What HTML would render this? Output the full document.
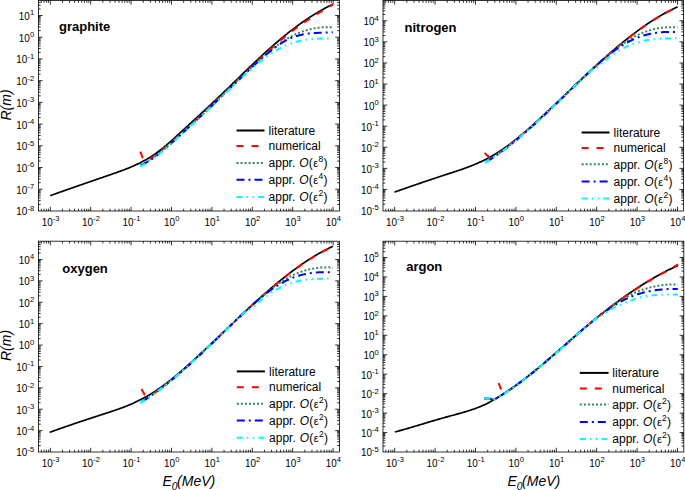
<!DOCTYPE html>
<html><head><meta charset="utf-8"><style>
html,body{margin:0;padding:0;background:#fff;}
body{width:685px;height:490px;overflow:hidden;}
svg{display:block;font-family:"Liberation Sans", sans-serif;}
</style></head><body>
<svg width="685" height="490" viewBox="0 0 685 490">
<rect width="685" height="490" fill="#fff"/>
<rect x="38.4" y="0.5" width="301" height="210.5" fill="none" stroke="#000" stroke-width="0.8"/>
<path d="M41.34,211v-2.3 M41.34,0.5v2.3 M44.04,211v-2.3 M44.04,0.5v2.3 M46.38,211v-2.3 M46.38,0.5v2.3 M48.45,211v-2.3 M48.45,0.5v2.3 M50.3,211v-4.2 M50.3,0.5v4.2 M62.46,211v-2.3 M62.46,0.5v2.3 M69.58,211v-2.3 M69.58,0.5v2.3 M74.62,211v-2.3 M74.62,0.5v2.3 M78.54,211v-2.3 M78.54,0.5v2.3 M81.74,211v-2.3 M81.74,0.5v2.3 M84.44,211v-2.3 M84.44,0.5v2.3 M86.78,211v-2.3 M86.78,0.5v2.3 M88.85,211v-2.3 M88.85,0.5v2.3 M90.7,211v-4.2 M90.7,0.5v4.2 M102.86,211v-2.3 M102.86,0.5v2.3 M109.98,211v-2.3 M109.98,0.5v2.3 M115.02,211v-2.3 M115.02,0.5v2.3 M118.94,211v-2.3 M118.94,0.5v2.3 M122.14,211v-2.3 M122.14,0.5v2.3 M124.84,211v-2.3 M124.84,0.5v2.3 M127.18,211v-2.3 M127.18,0.5v2.3 M129.25,211v-2.3 M129.25,0.5v2.3 M131.1,211v-4.2 M131.1,0.5v4.2 M143.26,211v-2.3 M143.26,0.5v2.3 M150.38,211v-2.3 M150.38,0.5v2.3 M155.42,211v-2.3 M155.42,0.5v2.3 M159.34,211v-2.3 M159.34,0.5v2.3 M162.54,211v-2.3 M162.54,0.5v2.3 M165.24,211v-2.3 M165.24,0.5v2.3 M167.58,211v-2.3 M167.58,0.5v2.3 M169.65,211v-2.3 M169.65,0.5v2.3 M171.5,211v-4.2 M171.5,0.5v4.2 M183.66,211v-2.3 M183.66,0.5v2.3 M190.78,211v-2.3 M190.78,0.5v2.3 M195.82,211v-2.3 M195.82,0.5v2.3 M199.74,211v-2.3 M199.74,0.5v2.3 M202.94,211v-2.3 M202.94,0.5v2.3 M205.64,211v-2.3 M205.64,0.5v2.3 M207.98,211v-2.3 M207.98,0.5v2.3 M210.05,211v-2.3 M210.05,0.5v2.3 M211.9,211v-4.2 M211.9,0.5v4.2 M224.06,211v-2.3 M224.06,0.5v2.3 M231.18,211v-2.3 M231.18,0.5v2.3 M236.22,211v-2.3 M236.22,0.5v2.3 M240.14,211v-2.3 M240.14,0.5v2.3 M243.34,211v-2.3 M243.34,0.5v2.3 M246.04,211v-2.3 M246.04,0.5v2.3 M248.38,211v-2.3 M248.38,0.5v2.3 M250.45,211v-2.3 M250.45,0.5v2.3 M252.3,211v-4.2 M252.3,0.5v4.2 M264.46,211v-2.3 M264.46,0.5v2.3 M271.58,211v-2.3 M271.58,0.5v2.3 M276.62,211v-2.3 M276.62,0.5v2.3 M280.54,211v-2.3 M280.54,0.5v2.3 M283.74,211v-2.3 M283.74,0.5v2.3 M286.44,211v-2.3 M286.44,0.5v2.3 M288.78,211v-2.3 M288.78,0.5v2.3 M290.85,211v-2.3 M290.85,0.5v2.3 M292.7,211v-4.2 M292.7,0.5v4.2 M304.86,211v-2.3 M304.86,0.5v2.3 M311.98,211v-2.3 M311.98,0.5v2.3 M317.02,211v-2.3 M317.02,0.5v2.3 M320.94,211v-2.3 M320.94,0.5v2.3 M324.14,211v-2.3 M324.14,0.5v2.3 M326.84,211v-2.3 M326.84,0.5v2.3 M329.18,211v-2.3 M329.18,0.5v2.3 M331.25,211v-2.3 M331.25,0.5v2.3 M333.1,211v-4.2 M333.1,0.5v4.2 M38.4,204.44h2.3 M339.4,204.44h-2.3 M38.4,200.62h2.3 M339.4,200.62h-2.3 M38.4,197.9h2.3 M339.4,197.9h-2.3 M38.4,195.8h2.3 M339.4,195.8h-2.3 M38.4,194.08h2.3 M339.4,194.08h-2.3 M38.4,192.62h2.3 M339.4,192.62h-2.3 M38.4,191.36h2.3 M339.4,191.36h-2.3 M38.4,190.25h2.3 M339.4,190.25h-2.3 M38.4,189.26h4.2 M339.4,189.26h-4.2 M38.4,182.72h2.3 M339.4,182.72h-2.3 M38.4,178.9h2.3 M339.4,178.9h-2.3 M38.4,176.18h2.3 M339.4,176.18h-2.3 M38.4,174.08h2.3 M339.4,174.08h-2.3 M38.4,172.36h2.3 M339.4,172.36h-2.3 M38.4,170.9h2.3 M339.4,170.9h-2.3 M38.4,169.64h2.3 M339.4,169.64h-2.3 M38.4,168.53h2.3 M339.4,168.53h-2.3 M38.4,167.54h4.2 M339.4,167.54h-4.2 M38.4,161h2.3 M339.4,161h-2.3 M38.4,157.18h2.3 M339.4,157.18h-2.3 M38.4,154.46h2.3 M339.4,154.46h-2.3 M38.4,152.36h2.3 M339.4,152.36h-2.3 M38.4,150.64h2.3 M339.4,150.64h-2.3 M38.4,149.18h2.3 M339.4,149.18h-2.3 M38.4,147.92h2.3 M339.4,147.92h-2.3 M38.4,146.81h2.3 M339.4,146.81h-2.3 M38.4,145.82h4.2 M339.4,145.82h-4.2 M38.4,139.28h2.3 M339.4,139.28h-2.3 M38.4,135.46h2.3 M339.4,135.46h-2.3 M38.4,132.74h2.3 M339.4,132.74h-2.3 M38.4,130.64h2.3 M339.4,130.64h-2.3 M38.4,128.92h2.3 M339.4,128.92h-2.3 M38.4,127.46h2.3 M339.4,127.46h-2.3 M38.4,126.2h2.3 M339.4,126.2h-2.3 M38.4,125.09h2.3 M339.4,125.09h-2.3 M38.4,124.1h4.2 M339.4,124.1h-4.2 M38.4,117.56h2.3 M339.4,117.56h-2.3 M38.4,113.74h2.3 M339.4,113.74h-2.3 M38.4,111.02h2.3 M339.4,111.02h-2.3 M38.4,108.92h2.3 M339.4,108.92h-2.3 M38.4,107.2h2.3 M339.4,107.2h-2.3 M38.4,105.74h2.3 M339.4,105.74h-2.3 M38.4,104.48h2.3 M339.4,104.48h-2.3 M38.4,103.37h2.3 M339.4,103.37h-2.3 M38.4,102.38h4.2 M339.4,102.38h-4.2 M38.4,95.84h2.3 M339.4,95.84h-2.3 M38.4,92.02h2.3 M339.4,92.02h-2.3 M38.4,89.3h2.3 M339.4,89.3h-2.3 M38.4,87.2h2.3 M339.4,87.2h-2.3 M38.4,85.48h2.3 M339.4,85.48h-2.3 M38.4,84.02h2.3 M339.4,84.02h-2.3 M38.4,82.76h2.3 M339.4,82.76h-2.3 M38.4,81.65h2.3 M339.4,81.65h-2.3 M38.4,80.66h4.2 M339.4,80.66h-4.2 M38.4,74.12h2.3 M339.4,74.12h-2.3 M38.4,70.3h2.3 M339.4,70.3h-2.3 M38.4,67.58h2.3 M339.4,67.58h-2.3 M38.4,65.48h2.3 M339.4,65.48h-2.3 M38.4,63.76h2.3 M339.4,63.76h-2.3 M38.4,62.3h2.3 M339.4,62.3h-2.3 M38.4,61.04h2.3 M339.4,61.04h-2.3 M38.4,59.93h2.3 M339.4,59.93h-2.3 M38.4,58.94h4.2 M339.4,58.94h-4.2 M38.4,52.4h2.3 M339.4,52.4h-2.3 M38.4,48.58h2.3 M339.4,48.58h-2.3 M38.4,45.86h2.3 M339.4,45.86h-2.3 M38.4,43.76h2.3 M339.4,43.76h-2.3 M38.4,42.04h2.3 M339.4,42.04h-2.3 M38.4,40.58h2.3 M339.4,40.58h-2.3 M38.4,39.32h2.3 M339.4,39.32h-2.3 M38.4,38.21h2.3 M339.4,38.21h-2.3 M38.4,37.22h4.2 M339.4,37.22h-4.2 M38.4,30.68h2.3 M339.4,30.68h-2.3 M38.4,26.86h2.3 M339.4,26.86h-2.3 M38.4,24.14h2.3 M339.4,24.14h-2.3 M38.4,22.04h2.3 M339.4,22.04h-2.3 M38.4,20.32h2.3 M339.4,20.32h-2.3 M38.4,18.86h2.3 M339.4,18.86h-2.3 M38.4,17.6h2.3 M339.4,17.6h-2.3 M38.4,16.49h2.3 M339.4,16.49h-2.3 M38.4,15.5h4.2 M339.4,15.5h-4.2 M38.4,8.96h2.3 M339.4,8.96h-2.3 M38.4,5.14h2.3 M339.4,5.14h-2.3 M38.4,2.42h2.3 M339.4,2.42h-2.3" stroke="#000" stroke-width="0.8" fill="none"/>
<text transform="translate(41.64,225.9) scale(0.9,1)" font-size="11.0">10</text><text transform="translate(52.8,221.4) scale(1.0,1)" font-size="7.6">-3</text>
<text transform="translate(82.04,225.9) scale(0.9,1)" font-size="11.0">10</text><text transform="translate(93.2,221.4) scale(1.0,1)" font-size="7.6">-2</text>
<text transform="translate(122.44,225.9) scale(0.9,1)" font-size="11.0">10</text><text transform="translate(133.6,221.4) scale(1.0,1)" font-size="7.6">-1</text>
<text transform="translate(164.11,225.9) scale(0.9,1)" font-size="11.0">10</text><text transform="translate(175.27,221.4) scale(1.0,1)" font-size="7.6">0</text>
<text transform="translate(204.51,225.9) scale(0.9,1)" font-size="11.0">10</text><text transform="translate(215.67,221.4) scale(1.0,1)" font-size="7.6">1</text>
<text transform="translate(244.91,225.9) scale(0.9,1)" font-size="11.0">10</text><text transform="translate(256.07,221.4) scale(1.0,1)" font-size="7.6">2</text>
<text transform="translate(285.31,225.9) scale(0.9,1)" font-size="11.0">10</text><text transform="translate(296.47,221.4) scale(1.0,1)" font-size="7.6">3</text>
<text transform="translate(325.71,225.9) scale(0.9,1)" font-size="11.0">10</text><text transform="translate(336.87,221.4) scale(1.0,1)" font-size="7.6">4</text>
<text transform="translate(16.28,215.38) scale(0.9,1)" font-size="11.0">10</text><text transform="translate(27.44,210.88) scale(1.0,1)" font-size="7.6">-8</text>
<text transform="translate(16.28,193.66) scale(0.9,1)" font-size="11.0">10</text><text transform="translate(27.44,189.16) scale(1.0,1)" font-size="7.6">-7</text>
<text transform="translate(16.28,171.94) scale(0.9,1)" font-size="11.0">10</text><text transform="translate(27.44,167.44) scale(1.0,1)" font-size="7.6">-6</text>
<text transform="translate(16.28,150.22) scale(0.9,1)" font-size="11.0">10</text><text transform="translate(27.44,145.72) scale(1.0,1)" font-size="7.6">-5</text>
<text transform="translate(16.28,128.5) scale(0.9,1)" font-size="11.0">10</text><text transform="translate(27.44,124) scale(1.0,1)" font-size="7.6">-4</text>
<text transform="translate(16.28,106.78) scale(0.9,1)" font-size="11.0">10</text><text transform="translate(27.44,102.28) scale(1.0,1)" font-size="7.6">-3</text>
<text transform="translate(16.28,85.06) scale(0.9,1)" font-size="11.0">10</text><text transform="translate(27.44,80.56) scale(1.0,1)" font-size="7.6">-2</text>
<text transform="translate(16.28,63.34) scale(0.9,1)" font-size="11.0">10</text><text transform="translate(27.44,58.84) scale(1.0,1)" font-size="7.6">-1</text>
<text transform="translate(18.82,41.62) scale(0.9,1)" font-size="11.0">10</text><text transform="translate(29.97,37.12) scale(1.0,1)" font-size="7.6">0</text>
<text transform="translate(18.82,19.9) scale(0.9,1)" font-size="11.0">10</text><text transform="translate(29.97,15.4) scale(1.0,1)" font-size="7.6">1</text>
<text x="59" y="31.4" font-size="13" font-weight="bold">graphite</text>
<path d="M50.3,195.66 L51.3,195.3 L52.3,194.94 L53.31,194.57 L54.31,194.21 L55.31,193.85 L56.31,193.5 L57.31,193.14 L58.31,192.78 L59.32,192.42 L60.32,192.07 L61.32,191.71 L62.32,191.36 L63.32,191 L64.32,190.65 L65.33,190.29 L66.33,189.94 L67.33,189.59 L68.33,189.23 L69.33,188.88 L70.34,188.53 L71.34,188.18 L72.34,187.83 L73.34,187.48 L74.34,187.13 L75.34,186.78 L76.35,186.43 L77.35,186.08 L78.35,185.74 L79.35,185.39 L80.35,185.04 L81.35,184.69 L82.36,184.35 L83.36,184 L84.36,183.65 L85.36,183.31 L86.36,182.96 L87.37,182.62 L88.37,182.27 L89.37,181.93 L90.37,181.58 L91.37,181.24 L92.37,180.89 L93.38,180.55 L94.38,180.2 L95.38,179.86 L96.38,179.51 L97.38,179.17 L98.39,178.82 L99.39,178.48 L100.39,178.14 L101.39,177.79 L102.39,177.45 L103.39,177.11 L104.4,176.76 L105.4,176.42 L106.4,176.07 L107.4,175.73 L108.4,175.39 L109.4,175.04 L110.41,174.7 L111.41,174.35 L112.41,174.01 L113.41,173.66 L114.41,173.31 L115.42,172.96 L116.42,172.61 L117.42,172.25 L118.42,171.9 L119.42,171.53 L120.42,171.17 L121.43,170.8 L122.43,170.43 L123.43,170.05 L124.43,169.67 L125.43,169.28 L126.43,168.89 L127.44,168.49 L128.44,168.09 L129.44,167.68 L130.44,167.26 L131.44,166.84 L132.45,166.41 L133.45,165.97 L134.45,165.52 L135.45,165.06 L136.45,164.6 L137.45,164.13 L138.46,163.64 L139.46,163.15 L140.46,162.65 L141.46,162.14 L142.46,161.61 L143.46,161.08 L144.47,160.53 L145.47,159.97 L146.47,159.41 L147.47,158.82 L148.47,158.23 L149.48,157.62 L150.48,157 L151.48,156.37 L152.48,155.72 L153.48,155.06 L154.48,154.38 L155.49,153.69 L156.49,152.98 L157.49,152.26 L158.49,151.52 L159.49,150.76 L160.5,149.99 L161.5,149.21 L162.5,148.41 L163.5,147.59 L164.5,146.77 L165.5,145.93 L166.51,145.08 L167.51,144.22 L168.51,143.35 L169.51,142.47 L170.51,141.59 L171.51,140.69 L172.52,139.79 L173.52,138.89 L174.52,137.98 L175.52,137.07 L176.52,136.15 L177.53,135.23 L178.53,134.31 L179.53,133.39 L180.53,132.47 L181.53,131.55 L182.53,130.64 L183.54,129.72 L184.54,128.8 L185.54,127.88 L186.54,126.96 L187.54,126.05 L188.54,125.13 L189.55,124.21 L190.55,123.29 L191.55,122.37 L192.55,121.46 L193.55,120.54 L194.56,119.62 L195.56,118.7 L196.56,117.78 L197.56,116.86 L198.56,115.93 L199.56,115.01 L200.57,114.08 L201.57,113.16 L202.57,112.23 L203.57,111.3 L204.57,110.37 L205.57,109.44 L206.58,108.51 L207.58,107.58 L208.58,106.64 L209.58,105.7 L210.58,104.76 L211.59,103.82 L212.59,102.88 L213.59,101.93 L214.59,100.99 L215.59,100.03 L216.59,99.08 L217.6,98.13 L218.6,97.17 L219.6,96.21 L220.6,95.25 L221.6,94.29 L222.6,93.33 L223.61,92.36 L224.61,91.39 L225.61,90.43 L226.61,89.46 L227.61,88.49 L228.62,87.52 L229.62,86.55 L230.62,85.57 L231.62,84.6 L232.62,83.63 L233.62,82.66 L234.63,81.68 L235.63,80.71 L236.63,79.74 L237.63,78.77 L238.63,77.79 L239.64,76.82 L240.64,75.85 L241.64,74.88 L242.64,73.91 L243.64,72.95 L244.64,71.98 L245.65,71.01 L246.65,70.05 L247.65,69.09 L248.65,68.13 L249.65,67.17 L250.65,66.21 L251.66,65.26 L252.66,64.3 L253.66,63.35 L254.66,62.4 L255.66,61.46 L256.67,60.51 L257.67,59.57 L258.67,58.64 L259.67,57.7 L260.67,56.77 L261.67,55.84 L262.68,54.92 L263.68,53.99 L264.68,53.08 L265.68,52.16 L266.68,51.25 L267.68,50.35 L268.69,49.44 L269.69,48.55 L270.69,47.65 L271.69,46.76 L272.69,45.88 L273.7,45 L274.7,44.12 L275.7,43.25 L276.7,42.39 L277.7,41.53 L278.7,40.67 L279.71,39.83 L280.71,38.98 L281.71,38.14 L282.71,37.31 L283.71,36.49 L284.71,35.67 L285.72,34.85 L286.72,34.05 L287.72,33.25 L288.72,32.45 L289.72,31.66 L290.73,30.88 L291.73,30.1 L292.73,29.33 L293.73,28.57 L294.73,27.82 L295.73,27.07 L296.74,26.32 L297.74,25.59 L298.74,24.86 L299.74,24.13 L300.74,23.42 L301.75,22.71 L302.75,22 L303.75,21.31 L304.75,20.62 L305.75,19.94 L306.75,19.26 L307.76,18.59 L308.76,17.93 L309.76,17.28 L310.76,16.63 L311.76,15.99 L312.76,15.36 L313.77,14.74 L314.77,14.12 L315.77,13.51 L316.77,12.91 L317.77,12.31 L318.78,11.72 L319.78,11.14 L320.78,10.57 L321.78,10 L322.78,9.44 L323.78,8.89 L324.79,8.35 L325.79,7.82 L326.79,7.29 L327.79,6.77 L328.79,6.26 L329.79,5.76 L330.8,5.26 L331.8,4.77 L332.8,4.29" fill="none" stroke="#000" stroke-width="1.7"/>
<path d="M140.4,151.7 L142.4,157.4 L144.5,160.3 L147,160.7 L148,160.05 L149,159.39 L150,158.71 L151,158.03 L152,157.33 L153,156.63 L154,155.91 L155,155.19 L156,154.45 L157,153.71 L158,152.95 L159,152.19 L160,151.42 L161,150.64 L162,149.85 L163,149.05 L164,148.25 L165,147.44 L166,146.62 L167,145.79 L168,144.95 L169,144.11 L170,143.26 L171,142.41 L172,141.55 L173,140.68 L174,139.81 L175,138.94 L176,138.05 L177,137.17 L178,136.27 L179,135.38 L180,134.48 L181,133.57 L182,132.66 L183,131.75 L184,130.84 L185,129.92 L186,129 L187,128.07 L188,127.14 L189,126.22 L190,125.28 L191,124.35 L192,123.42 L193,122.48 L194,121.54 L195,120.61 L196,119.67 L197,118.73 L198,117.79 L199,116.85 L200,115.91 L201,114.97 L202,114.03 L203,113.08 L204,112.14 L205,111.2 L206,110.25 L207,109.31 L208,108.36 L209,107.42 L210,106.47 L211,105.52 L212,104.58 L213,103.63 L214,102.68 L215,101.73" fill="none" stroke="#ff0000" stroke-width="2" stroke-dasharray="7 8"/>
<path d="M215,101.73 L216,100.78 L217,99.83 L218,98.88 L219,97.93 L220,96.98 L221,96.02 L222,95.07 L223,94.12 L224,93.16 L225,92.21 L226,91.25 L227,90.3 L228,89.34 L229,88.39 L230,87.43 L231,86.47 L232,85.51 L233,84.56 L234,83.6 L235,82.64 L236,81.68 L237,80.72 L238,79.76 L239,78.8 L240,77.84 L241,76.88 L242,75.91 L243,74.95 L244,73.99 L245,73.03 L246,72.07 L247,71.11 L248,70.15 L249,69.19 L250,68.23 L251,67.27 L252,66.32 L253,65.36 L254,64.41 L255,63.46 L256,62.51 L257,61.57 L258,60.62 L259,59.68 L260,58.75 L261,57.81 L262,56.88 L263,55.95 L264,55.02 L265,54.1 L266,53.18 L267,52.27 L268,51.36 L269,50.45 L270,49.55 L271,48.66 L272,47.76 L273,46.88 L274,45.99 L275,45.12 L276,44.25 L277,43.38 L278,42.52 L279,41.66 L280,40.82 L281,39.97 L282,39.14 L283,38.31 L284,37.49 L285,36.67 L286,35.86 L287,35.06 L288,34.27 L289,33.48 L290,32.7 L291,31.93 L292,31.17 L293,30.41 L294,29.66 L295,28.92 L296,28.18 L297,27.45 L298,26.73 L299,26.01 L300,25.3 L301,24.59 L302,23.9 L303,23.2 L304,22.52 L305,21.84 L306,21.16 L307,20.49 L308,19.83 L309,19.17 L310,18.52 L311,17.87 L312,17.23 L313,16.59 L314,15.96 L315,15.33 L316,14.71 L317,14.08 L318,13.47 L319,12.85 L320,12.24 L321,11.63 L322,11.03 L323,10.43 L324,9.82 L325,9.23 L326,8.63 L327,8.03 L328,7.43 L329,6.84 L330,6.24 L331,5.65 L332,5.05 L333,4.46" fill="none" stroke="#ff0000" stroke-width="2" stroke-dasharray="7 8" stroke-dashoffset="0.59"/>
<path d="M140.5,165.41 L141.5,164.91 L142.5,164.38 L143.5,163.84 L144.5,163.28 L145.5,162.7 L146.5,162.1 L147.5,161.49 L148.5,160.85 L149.5,160.2 L150.5,159.54 L151.5,158.86 L152.5,158.16 L153.5,157.46 L154.5,156.73 L155.5,156 L156.5,155.25 L157.5,154.48 L158.5,153.71 L159.5,152.92 L160.5,152.13 L161.5,151.32 L162.5,150.5 L163.5,149.68 L164.5,148.84 L165.5,148 L166.5,147.15 L167.5,146.29 L168.5,145.42 L169.5,144.55 L170.5,143.67 L171.5,142.79 L172.5,141.9 L173.5,141.01 L174.5,140.11 L175.5,139.21 L176.5,138.31 L177.5,137.41 L178.5,136.5 L179.5,135.59 L180.5,134.68 L181.5,133.77 L182.5,132.86 L183.5,131.95 L184.5,131.04 L185.5,130.12 L186.5,129.21 L187.5,128.29 L188.5,127.38 L189.5,126.46 L190.5,125.54 L191.5,124.62 L192.5,123.7 L193.5,122.78 L194.5,121.85 L195.5,120.93 L196.5,120 L197.5,119.07 L198.5,118.14 L199.5,117.21 L200.5,116.28 L201.5,115.35 L202.5,114.41 L203.5,113.47 L204.5,112.54 L205.5,111.6 L206.5,110.65 L207.5,109.71 L208.5,108.77 L209.5,107.82 L210.5,106.87 L211.5,105.92 L212.5,104.97 L213.5,104.02 L214.5,103.06 L215.5,102.1 L216.5,101.14 L217.5,100.18 L218.5,99.22 L219.5,98.26 L220.5,97.29 L221.5,96.32 L222.5,95.36 L223.5,94.39 L224.5,93.42 L225.5,92.45 L226.5,91.48 L227.5,90.5 L228.5,89.53 L229.5,88.56 L230.5,87.59 L231.5,86.62 L232.5,85.65 L233.5,84.68 L234.5,83.71 L235.5,82.74 L236.5,81.77 L237.5,80.8 L238.5,79.84 L239.5,78.87 L240.5,77.91 L241.5,76.95 L242.5,75.99 L243.5,75.03 L244.5,74.08 L245.5,73.12 L246.5,72.17 L247.5,71.22 L248.5,70.28 L249.5,69.33 L250.5,68.39 L251.5,67.46 L252.5,66.52 L253.5,65.59 L254.5,64.67 L255.5,63.74 L256.5,62.82 L257.5,61.91 L258.5,61 L259.5,60.09 L260.5,59.19 L261.5,58.3 L262.5,57.41 L263.5,56.53 L264.5,55.66 L265.5,54.79 L266.5,53.94 L267.5,53.09 L268.5,52.25 L269.5,51.42 L270.5,50.59 L271.5,49.78 L272.5,48.98 L273.5,48.19 L274.5,47.41 L275.5,46.65 L276.5,45.89 L277.5,45.15 L278.5,44.42 L279.5,43.7 L280.5,43 L281.5,42.32 L282.5,41.64 L283.5,40.98 L284.5,40.34 L285.5,39.71 L286.5,39.1 L287.5,38.51 L288.5,37.93 L289.5,37.37 L290.5,36.82 L291.5,36.3 L292.5,35.78 L293.5,35.28 L294.5,34.8 L295.5,34.34 L296.5,33.89 L297.5,33.45 L298.5,33.03 L299.5,32.63 L300.5,32.24 L301.5,31.87 L302.5,31.51 L303.5,31.16 L304.5,30.83 L305.5,30.52 L306.5,30.22 L307.5,29.94 L308.5,29.67 L309.5,29.41 L310.5,29.17 L311.5,28.95 L312.5,28.73 L313.5,28.53 L314.5,28.35 L315.5,28.18 L316.5,28.02 L317.5,27.88 L318.5,27.75 L319.5,27.64 L320.5,27.53 L321.5,27.45 L322.5,27.37 L323.5,27.31 L324.5,27.26 L325.5,27.22 L326.5,27.2 L327.5,27.19 L328.5,27.19 L329.5,27.21 L330.5,27.24 L331.5,27.28 L332.5,27.33" fill="none" stroke="#318a57" stroke-width="2" stroke-dasharray="2 2.05"/>
<path d="M141,165.28 L142,164.81 L143.01,164.31 L144.01,163.79 L145.02,163.24 L146.02,162.68 L147.03,162.09 L148.03,161.48 L149.03,160.86 L150.04,160.21 L151.04,159.54 L152.05,158.86 L153.05,158.15 L154.05,157.43 L155.06,156.7 L156.06,155.95 L157.07,155.18 L158.07,154.41 L159.08,153.61 L160.08,152.81 L161.08,151.99 L162.09,151.16 L163.09,150.33 L164.1,149.48 L165.1,148.62 L166.1,147.76 L167.11,146.88 L168.11,146 L169.12,145.11 L170.12,144.22 L171.13,143.33 L172.13,142.42 L173.13,141.52 L174.14,140.61 L175.14,139.7 L176.15,138.79 L177.15,137.88 L178.15,136.96 L179.16,136.05 L180.16,135.14 L181.17,134.22 L182.17,133.31 L183.18,132.39 L184.18,131.48 L185.18,130.56 L186.19,129.64 L187.19,128.72 L188.2,127.81 L189.2,126.89 L190.21,125.97 L191.21,125.05 L192.21,124.12 L193.22,123.2 L194.22,122.28 L195.23,121.35 L196.23,120.42 L197.23,119.49 L198.24,118.56 L199.24,117.63 L200.25,116.7 L201.25,115.77 L202.26,114.83 L203.26,113.89 L204.26,112.96 L205.27,112.01 L206.27,111.07 L207.28,110.13 L208.28,109.18 L209.28,108.23 L210.29,107.28 L211.29,106.33 L212.3,105.38 L213.3,104.42 L214.31,103.46" fill="none" stroke="#0000ff" stroke-width="2" stroke-dasharray="8 4 2 4"/>
<path d="M214.31,103.46 L215.31,102.5 L216.31,101.54 L217.32,100.57 L218.32,99.6 L219.33,98.64 L220.33,97.67 L221.34,96.7 L222.34,95.73 L223.34,94.75 L224.35,93.78 L225.35,92.81 L226.36,91.83 L227.36,90.86 L228.36,89.88 L229.37,88.91 L230.37,87.93 L231.38,86.96 L232.38,85.99 L233.39,85.01 L234.39,84.04 L235.39,83.07 L236.4,82.1 L237.4,81.13 L238.41,80.16 L239.41,79.19 L240.41,78.22 L241.42,77.26 L242.42,76.3 L243.43,75.34 L244.43,74.38 L245.44,73.42 L246.44,72.47 L247.44,71.52 L248.45,70.57 L249.45,69.63 L250.46,68.68 L251.46,67.75 L252.46,66.81 L253.47,65.88 L254.47,64.96 L255.48,64.04 L256.48,63.13 L257.49,62.22 L258.49,61.32 L259.49,60.43 L260.5,59.54 L261.5,58.67 L262.51,57.8 L263.51,56.93 L264.52,56.08 L265.52,55.23 L266.52,54.38 L267.53,53.55 L268.53,52.72 L269.54,51.9 L270.54,51.1 L271.54,50.3 L272.55,49.51 L273.55,48.74 L274.56,47.98 L275.56,47.23 L276.57,46.5 L277.57,45.78 L278.57,45.08 L279.58,44.4 L280.58,43.73 L281.59,43.08 L282.59,42.45 L283.59,41.85 L284.6,41.26 L285.6,40.69 L286.61,40.14 L287.61,39.62 L288.62,39.12 L289.62,38.64 L290.62,38.19 L291.63,37.77 L292.63,37.37 L293.64,36.99 L294.64,36.63 L295.65,36.3 L296.65,35.98 L297.65,35.69 L298.66,35.42 L299.66,35.16 L300.67,34.93 L301.67,34.71 L302.67,34.5 L303.68,34.31 L304.68,34.14 L305.69,33.98 L306.69,33.84 L307.7,33.7 L308.7,33.58 L309.7,33.47 L310.71,33.37 L311.71,33.28 L312.72,33.2 L313.72,33.13 L314.72,33.06 L315.73,33 L316.73,32.95 L317.74,32.9 L318.74,32.85 L319.75,32.81 L320.75,32.77 L321.75,32.73 L322.76,32.7 L323.76,32.66 L324.77,32.63 L325.77,32.59 L326.77,32.55 L327.78,32.51 L328.78,32.46 L329.79,32.41 L330.79,32.35 L331.8,32.29 L332.8,32.22" fill="none" stroke="#0000ff" stroke-width="2" stroke-dasharray="8 4 2 4" stroke-dashoffset="1.45"/>
<path d="M140,166.54 L141,166.03 L142.01,165.51 L143.01,164.96 L144.01,164.39 L145.01,163.81 L146.02,163.21 L147.02,162.59 L148.02,161.95 L149.02,161.3 L150.03,160.63 L151.03,159.94 L152.03,159.24 L153.03,158.53 L154.04,157.8 L155.04,157.06 L156.04,156.31 L157.04,155.54 L158.05,154.77 L159.05,153.98 L160.05,153.18 L161.05,152.37 L162.06,151.55 L163.06,150.72 L164.06,149.88 L165.07,149.03 L166.07,148.18 L167.07,147.32 L168.07,146.45 L169.08,145.58 L170.08,144.7 L171.08,143.82 L172.08,142.93 L173.09,142.04 L174.09,141.14 L175.09,140.25 L176.09,139.34 L177.1,138.44 L178.1,137.54 L179.1,136.63 L180.1,135.72 L181.11,134.81 L182.11,133.9 L183.11,132.98 L184.11,132.07 L185.12,131.15 L186.12,130.23 L187.12,129.31 L188.12,128.39 L189.13,127.46 L190.13,126.54 L191.13,125.61 L192.14,124.68 L193.14,123.75 L194.14,122.82 L195.14,121.88 L196.15,120.95 L197.15,120.01 L198.15,119.07 L199.15,118.13 L200.16,117.19 L201.16,116.25 L202.16,115.3 L203.16,114.36 L204.17,113.41 L205.17,112.46 L206.17,111.51 L207.17,110.56 L208.18,109.61 L209.18,108.66 L210.18,107.7 L211.18,106.75 L212.19,105.79 L213.19,104.83 L214.19,103.87" fill="none" stroke="#00ffff" stroke-width="2" stroke-dasharray="6 4 1.6 4.4 1.6 4"/>
<path d="M214.19,103.87 L215.2,102.91 L216.2,101.95 L217.2,100.99 L218.2,100.03 L219.21,99.07 L220.21,98.11 L221.21,97.14 L222.21,96.18 L223.22,95.21 L224.22,94.25 L225.22,93.28 L226.22,92.32 L227.23,91.36 L228.23,90.39 L229.23,89.43 L230.23,88.46 L231.24,87.5 L232.24,86.54 L233.24,85.58 L234.24,84.62 L235.25,83.66 L236.25,82.7 L237.25,81.75 L238.26,80.8 L239.26,79.86 L240.26,78.91 L241.26,77.97 L242.27,77.04 L243.27,76.11 L244.27,75.19 L245.27,74.27 L246.28,73.36 L247.28,72.45 L248.28,71.56 L249.28,70.66 L250.29,69.78 L251.29,68.9 L252.29,68.03 L253.29,67.17 L254.3,66.32 L255.3,65.48 L256.3,64.64 L257.3,63.82 L258.31,63 L259.31,62.2 L260.31,61.4 L261.32,60.62 L262.32,59.84 L263.32,59.08 L264.32,58.33 L265.33,57.59 L266.33,56.86 L267.33,56.14 L268.33,55.44 L269.34,54.75 L270.34,54.07 L271.34,53.4 L272.34,52.75 L273.35,52.11 L274.35,51.49 L275.35,50.88 L276.35,50.29 L277.36,49.71 L278.36,49.15 L279.36,48.6 L280.36,48.07 L281.37,47.55 L282.37,47.05 L283.37,46.57 L284.38,46.1 L285.38,45.65 L286.38,45.22 L287.38,44.81 L288.39,44.41 L289.39,44.03 L290.39,43.66 L291.39,43.31 L292.4,42.97 L293.4,42.65 L294.4,42.35 L295.4,42.05 L296.41,41.78 L297.41,41.51 L298.41,41.26 L299.41,41.02 L300.42,40.8 L301.42,40.59 L302.42,40.39 L303.42,40.2 L304.43,40.02 L305.43,39.86 L306.43,39.7 L307.43,39.56 L308.44,39.43 L309.44,39.31 L310.44,39.19 L311.45,39.09 L312.45,39 L313.45,38.91 L314.45,38.84 L315.46,38.77 L316.46,38.71 L317.46,38.66 L318.46,38.62 L319.47,38.58 L320.47,38.56 L321.47,38.53 L322.47,38.52 L323.48,38.51 L324.48,38.51 L325.48,38.51 L326.48,38.52 L327.49,38.53 L328.49,38.55 L329.49,38.57 L330.49,38.59 L331.5,38.62 L332.5,38.66" fill="none" stroke="#00ffff" stroke-width="2" stroke-dasharray="6 4 1.6 4.4 1.6 4" stroke-dashoffset="4.63"/>
<line x1="236.5" y1="130.5" x2="264.5" y2="130.5" stroke="#000" stroke-width="2"/>
<text x="268.6" y="134.7" font-size="12">literature</text>
<line x1="236.5" y1="146" x2="264.5" y2="146" stroke="#ff0000" stroke-width="2" stroke-dasharray="7 8"/>
<text x="268.6" y="150.2" font-size="12">numerical</text>
<line x1="236.5" y1="163" x2="264.5" y2="163" stroke="#318a57" stroke-width="2" stroke-dasharray="2 2.05"/>
<text x="268.6" y="167.2" font-size="12">appr. <tspan font-style="italic" dx="0.7">O</tspan>(<tspan font-size="11" dx="0.6">ε</tspan><tspan font-size="8.5" dy="-4.9" dx="0.2">8</tspan><tspan dy="4.9" dx="0.3">)</tspan></text>
<line x1="236.5" y1="179.8" x2="264.5" y2="179.8" stroke="#0000ff" stroke-width="2" stroke-dasharray="8 4 2 4"/>
<text x="268.6" y="184" font-size="12">appr. <tspan font-style="italic" dx="0.7">O</tspan>(<tspan font-size="11" dx="0.6">ε</tspan><tspan font-size="8.5" dy="-4.9" dx="0.2">4</tspan><tspan dy="4.9" dx="0.3">)</tspan></text>
<line x1="236.5" y1="196.9" x2="264.5" y2="196.9" stroke="#00ffff" stroke-width="2" stroke-dasharray="6 4 1.6 4.4 1.6 4"/>
<text x="268.6" y="201.1" font-size="12">appr. <tspan font-style="italic" dx="0.7">O</tspan>(<tspan font-size="11" dx="0.6">ε</tspan><tspan font-size="8.5" dy="-4.9" dx="0.2">2</tspan><tspan dy="4.9" dx="0.3">)</tspan></text>
<rect x="383" y="0.5" width="300.6" height="210.5" fill="none" stroke="#000" stroke-width="0.8"/>
<path d="M385.74,211v-2.3 M385.74,0.5v2.3 M388.44,211v-2.3 M388.44,0.5v2.3 M390.78,211v-2.3 M390.78,0.5v2.3 M392.85,211v-2.3 M392.85,0.5v2.3 M394.7,211v-4.2 M394.7,0.5v4.2 M406.86,211v-2.3 M406.86,0.5v2.3 M413.98,211v-2.3 M413.98,0.5v2.3 M419.02,211v-2.3 M419.02,0.5v2.3 M422.94,211v-2.3 M422.94,0.5v2.3 M426.14,211v-2.3 M426.14,0.5v2.3 M428.84,211v-2.3 M428.84,0.5v2.3 M431.18,211v-2.3 M431.18,0.5v2.3 M433.25,211v-2.3 M433.25,0.5v2.3 M435.1,211v-4.2 M435.1,0.5v4.2 M447.26,211v-2.3 M447.26,0.5v2.3 M454.38,211v-2.3 M454.38,0.5v2.3 M459.42,211v-2.3 M459.42,0.5v2.3 M463.34,211v-2.3 M463.34,0.5v2.3 M466.54,211v-2.3 M466.54,0.5v2.3 M469.24,211v-2.3 M469.24,0.5v2.3 M471.58,211v-2.3 M471.58,0.5v2.3 M473.65,211v-2.3 M473.65,0.5v2.3 M475.5,211v-4.2 M475.5,0.5v4.2 M487.66,211v-2.3 M487.66,0.5v2.3 M494.78,211v-2.3 M494.78,0.5v2.3 M499.82,211v-2.3 M499.82,0.5v2.3 M503.74,211v-2.3 M503.74,0.5v2.3 M506.94,211v-2.3 M506.94,0.5v2.3 M509.64,211v-2.3 M509.64,0.5v2.3 M511.98,211v-2.3 M511.98,0.5v2.3 M514.05,211v-2.3 M514.05,0.5v2.3 M515.9,211v-4.2 M515.9,0.5v4.2 M528.06,211v-2.3 M528.06,0.5v2.3 M535.18,211v-2.3 M535.18,0.5v2.3 M540.22,211v-2.3 M540.22,0.5v2.3 M544.14,211v-2.3 M544.14,0.5v2.3 M547.34,211v-2.3 M547.34,0.5v2.3 M550.04,211v-2.3 M550.04,0.5v2.3 M552.38,211v-2.3 M552.38,0.5v2.3 M554.45,211v-2.3 M554.45,0.5v2.3 M556.3,211v-4.2 M556.3,0.5v4.2 M568.46,211v-2.3 M568.46,0.5v2.3 M575.58,211v-2.3 M575.58,0.5v2.3 M580.62,211v-2.3 M580.62,0.5v2.3 M584.54,211v-2.3 M584.54,0.5v2.3 M587.74,211v-2.3 M587.74,0.5v2.3 M590.44,211v-2.3 M590.44,0.5v2.3 M592.78,211v-2.3 M592.78,0.5v2.3 M594.85,211v-2.3 M594.85,0.5v2.3 M596.7,211v-4.2 M596.7,0.5v4.2 M608.86,211v-2.3 M608.86,0.5v2.3 M615.98,211v-2.3 M615.98,0.5v2.3 M621.02,211v-2.3 M621.02,0.5v2.3 M624.94,211v-2.3 M624.94,0.5v2.3 M628.14,211v-2.3 M628.14,0.5v2.3 M630.84,211v-2.3 M630.84,0.5v2.3 M633.18,211v-2.3 M633.18,0.5v2.3 M635.25,211v-2.3 M635.25,0.5v2.3 M637.1,211v-4.2 M637.1,0.5v4.2 M649.26,211v-2.3 M649.26,0.5v2.3 M656.38,211v-2.3 M656.38,0.5v2.3 M661.42,211v-2.3 M661.42,0.5v2.3 M665.34,211v-2.3 M665.34,0.5v2.3 M668.54,211v-2.3 M668.54,0.5v2.3 M671.24,211v-2.3 M671.24,0.5v2.3 M673.58,211v-2.3 M673.58,0.5v2.3 M675.65,211v-2.3 M675.65,0.5v2.3 M677.5,211v-4.2 M677.5,0.5v4.2 M383,204.17h2.3 M683.6,204.17h-2.3 M383,200.46h2.3 M683.6,200.46h-2.3 M383,197.83h2.3 M683.6,197.83h-2.3 M383,195.79h2.3 M683.6,195.79h-2.3 M383,194.12h2.3 M683.6,194.12h-2.3 M383,192.71h2.3 M683.6,192.71h-2.3 M383,191.48h2.3 M683.6,191.48h-2.3 M383,190.4h2.3 M683.6,190.4h-2.3 M383,189.44h4.2 M683.6,189.44h-4.2 M383,183.09h2.3 M683.6,183.09h-2.3 M383,179.38h2.3 M683.6,179.38h-2.3 M383,176.75h2.3 M683.6,176.75h-2.3 M383,174.71h2.3 M683.6,174.71h-2.3 M383,173.04h2.3 M683.6,173.04h-2.3 M383,171.63h2.3 M683.6,171.63h-2.3 M383,170.4h2.3 M683.6,170.4h-2.3 M383,169.32h2.3 M683.6,169.32h-2.3 M383,168.36h4.2 M683.6,168.36h-4.2 M383,162.01h2.3 M683.6,162.01h-2.3 M383,158.3h2.3 M683.6,158.3h-2.3 M383,155.67h2.3 M683.6,155.67h-2.3 M383,153.63h2.3 M683.6,153.63h-2.3 M383,151.96h2.3 M683.6,151.96h-2.3 M383,150.55h2.3 M683.6,150.55h-2.3 M383,149.32h2.3 M683.6,149.32h-2.3 M383,148.24h2.3 M683.6,148.24h-2.3 M383,147.28h4.2 M683.6,147.28h-4.2 M383,140.93h2.3 M683.6,140.93h-2.3 M383,137.22h2.3 M683.6,137.22h-2.3 M383,134.59h2.3 M683.6,134.59h-2.3 M383,132.55h2.3 M683.6,132.55h-2.3 M383,130.88h2.3 M683.6,130.88h-2.3 M383,129.47h2.3 M683.6,129.47h-2.3 M383,128.24h2.3 M683.6,128.24h-2.3 M383,127.16h2.3 M683.6,127.16h-2.3 M383,126.2h4.2 M683.6,126.2h-4.2 M383,119.85h2.3 M683.6,119.85h-2.3 M383,116.14h2.3 M683.6,116.14h-2.3 M383,113.51h2.3 M683.6,113.51h-2.3 M383,111.47h2.3 M683.6,111.47h-2.3 M383,109.8h2.3 M683.6,109.8h-2.3 M383,108.39h2.3 M683.6,108.39h-2.3 M383,107.16h2.3 M683.6,107.16h-2.3 M383,106.08h2.3 M683.6,106.08h-2.3 M383,105.12h4.2 M683.6,105.12h-4.2 M383,98.77h2.3 M683.6,98.77h-2.3 M383,95.06h2.3 M683.6,95.06h-2.3 M383,92.43h2.3 M683.6,92.43h-2.3 M383,90.39h2.3 M683.6,90.39h-2.3 M383,88.72h2.3 M683.6,88.72h-2.3 M383,87.31h2.3 M683.6,87.31h-2.3 M383,86.08h2.3 M683.6,86.08h-2.3 M383,85h2.3 M683.6,85h-2.3 M383,84.04h4.2 M683.6,84.04h-4.2 M383,77.69h2.3 M683.6,77.69h-2.3 M383,73.98h2.3 M683.6,73.98h-2.3 M383,71.35h2.3 M683.6,71.35h-2.3 M383,69.31h2.3 M683.6,69.31h-2.3 M383,67.64h2.3 M683.6,67.64h-2.3 M383,66.23h2.3 M683.6,66.23h-2.3 M383,65h2.3 M683.6,65h-2.3 M383,63.92h2.3 M683.6,63.92h-2.3 M383,62.96h4.2 M683.6,62.96h-4.2 M383,56.61h2.3 M683.6,56.61h-2.3 M383,52.9h2.3 M683.6,52.9h-2.3 M383,50.27h2.3 M683.6,50.27h-2.3 M383,48.23h2.3 M683.6,48.23h-2.3 M383,46.56h2.3 M683.6,46.56h-2.3 M383,45.15h2.3 M683.6,45.15h-2.3 M383,43.92h2.3 M683.6,43.92h-2.3 M383,42.84h2.3 M683.6,42.84h-2.3 M383,41.88h4.2 M683.6,41.88h-4.2 M383,35.53h2.3 M683.6,35.53h-2.3 M383,31.82h2.3 M683.6,31.82h-2.3 M383,29.19h2.3 M683.6,29.19h-2.3 M383,27.15h2.3 M683.6,27.15h-2.3 M383,25.48h2.3 M683.6,25.48h-2.3 M383,24.07h2.3 M683.6,24.07h-2.3 M383,22.84h2.3 M683.6,22.84h-2.3 M383,21.76h2.3 M683.6,21.76h-2.3 M383,20.8h4.2 M683.6,20.8h-4.2 M383,14.45h2.3 M683.6,14.45h-2.3 M383,10.74h2.3 M683.6,10.74h-2.3 M383,8.11h2.3 M683.6,8.11h-2.3 M383,6.07h2.3 M683.6,6.07h-2.3 M383,4.4h2.3 M683.6,4.4h-2.3 M383,2.99h2.3 M683.6,2.99h-2.3 M383,1.76h2.3 M683.6,1.76h-2.3" stroke="#000" stroke-width="0.8" fill="none"/>
<text transform="translate(386.04,225.9) scale(0.9,1)" font-size="11.0">10</text><text transform="translate(397.2,221.4) scale(1.0,1)" font-size="7.6">-3</text>
<text transform="translate(426.44,225.9) scale(0.9,1)" font-size="11.0">10</text><text transform="translate(437.6,221.4) scale(1.0,1)" font-size="7.6">-2</text>
<text transform="translate(466.84,225.9) scale(0.9,1)" font-size="11.0">10</text><text transform="translate(478,221.4) scale(1.0,1)" font-size="7.6">-1</text>
<text transform="translate(508.51,225.9) scale(0.9,1)" font-size="11.0">10</text><text transform="translate(519.67,221.4) scale(1.0,1)" font-size="7.6">0</text>
<text transform="translate(548.91,225.9) scale(0.9,1)" font-size="11.0">10</text><text transform="translate(560.07,221.4) scale(1.0,1)" font-size="7.6">1</text>
<text transform="translate(589.31,225.9) scale(0.9,1)" font-size="11.0">10</text><text transform="translate(600.47,221.4) scale(1.0,1)" font-size="7.6">2</text>
<text transform="translate(629.71,225.9) scale(0.9,1)" font-size="11.0">10</text><text transform="translate(640.87,221.4) scale(1.0,1)" font-size="7.6">3</text>
<text transform="translate(670.11,225.9) scale(0.9,1)" font-size="11.0">10</text><text transform="translate(681.27,221.4) scale(1.0,1)" font-size="7.6">4</text>
<text transform="translate(360.88,214.92) scale(0.9,1)" font-size="11.0">10</text><text transform="translate(372.04,210.42) scale(1.0,1)" font-size="7.6">-5</text>
<text transform="translate(360.88,193.84) scale(0.9,1)" font-size="11.0">10</text><text transform="translate(372.04,189.34) scale(1.0,1)" font-size="7.6">-4</text>
<text transform="translate(360.88,172.76) scale(0.9,1)" font-size="11.0">10</text><text transform="translate(372.04,168.26) scale(1.0,1)" font-size="7.6">-3</text>
<text transform="translate(360.88,151.68) scale(0.9,1)" font-size="11.0">10</text><text transform="translate(372.04,147.18) scale(1.0,1)" font-size="7.6">-2</text>
<text transform="translate(360.88,130.6) scale(0.9,1)" font-size="11.0">10</text><text transform="translate(372.04,126.1) scale(1.0,1)" font-size="7.6">-1</text>
<text transform="translate(363.42,109.52) scale(0.9,1)" font-size="11.0">10</text><text transform="translate(374.57,105.02) scale(1.0,1)" font-size="7.6">0</text>
<text transform="translate(363.42,88.44) scale(0.9,1)" font-size="11.0">10</text><text transform="translate(374.57,83.94) scale(1.0,1)" font-size="7.6">1</text>
<text transform="translate(363.42,67.36) scale(0.9,1)" font-size="11.0">10</text><text transform="translate(374.57,62.86) scale(1.0,1)" font-size="7.6">2</text>
<text transform="translate(363.42,46.28) scale(0.9,1)" font-size="11.0">10</text><text transform="translate(374.57,41.78) scale(1.0,1)" font-size="7.6">3</text>
<text transform="translate(363.42,25.2) scale(0.9,1)" font-size="11.0">10</text><text transform="translate(374.57,20.7) scale(1.0,1)" font-size="7.6">4</text>
<text x="404.5" y="32.3" font-size="13" font-weight="bold">nitrogen</text>
<path d="M394.5,192.08 L395.5,191.73 L396.5,191.38 L397.5,191.03 L398.5,190.68 L399.5,190.33 L400.5,189.98 L401.5,189.63 L402.5,189.28 L403.5,188.94 L404.5,188.59 L405.5,188.24 L406.5,187.89 L407.5,187.55 L408.5,187.2 L409.51,186.85 L410.51,186.51 L411.51,186.16 L412.51,185.82 L413.51,185.47 L414.51,185.13 L415.51,184.79 L416.51,184.44 L417.51,184.1 L418.51,183.76 L419.51,183.42 L420.51,183.08 L421.51,182.74 L422.51,182.39 L423.51,182.06 L424.51,181.72 L425.51,181.38 L426.51,181.04 L427.51,180.7 L428.51,180.36 L429.51,180.03 L430.51,179.69 L431.51,179.36 L432.51,179.02 L433.51,178.69 L434.51,178.35 L435.51,178.02 L436.51,177.69 L437.52,177.36 L438.52,177.02 L439.52,176.69 L440.52,176.36 L441.52,176.03 L442.52,175.71 L443.52,175.38 L444.52,175.05 L445.52,174.72 L446.52,174.4 L447.52,174.07 L448.52,173.75 L449.52,173.42 L450.52,173.1 L451.52,172.77 L452.52,172.45 L453.52,172.12 L454.52,171.79 L455.52,171.46 L456.52,171.13 L457.52,170.8 L458.52,170.46 L459.52,170.12 L460.52,169.78 L461.52,169.43 L462.52,169.08 L463.52,168.73 L464.52,168.37 L465.53,168.01 L466.53,167.65 L467.53,167.27 L468.53,166.9 L469.53,166.51 L470.53,166.13 L471.53,165.73 L472.53,165.33 L473.53,164.92 L474.53,164.51 L475.53,164.09 L476.53,163.66 L477.53,163.22 L478.53,162.78 L479.53,162.32 L480.53,161.86 L481.53,161.4 L482.53,160.92 L483.53,160.43 L484.53,159.94 L485.53,159.44 L486.53,158.92 L487.53,158.4 L488.53,157.87 L489.53,157.33 L490.53,156.78 L491.53,156.22 L492.53,155.65 L493.53,155.07 L494.54,154.48 L495.54,153.87 L496.54,153.26 L497.54,152.63 L498.54,152 L499.54,151.35 L500.54,150.69 L501.54,150.03 L502.54,149.35 L503.54,148.66 L504.54,147.97 L505.54,147.26 L506.54,146.54 L507.54,145.82 L508.54,145.08 L509.54,144.34 L510.54,143.59 L511.54,142.83 L512.54,142.06 L513.54,141.29 L514.54,140.5 L515.54,139.71 L516.54,138.91 L517.54,138.11 L518.54,137.29 L519.54,136.47 L520.54,135.65 L521.54,134.81 L522.55,133.97 L523.55,133.13 L524.55,132.28 L525.55,131.42 L526.55,130.55 L527.55,129.69 L528.55,128.81 L529.55,127.93 L530.55,127.05 L531.55,126.16 L532.55,125.27 L533.55,124.37 L534.55,123.47 L535.55,122.56 L536.55,121.65 L537.55,120.74 L538.55,119.83 L539.55,118.91 L540.55,117.98 L541.55,117.06 L542.55,116.13 L543.55,115.2 L544.55,114.27 L545.55,113.34 L546.55,112.4 L547.55,111.46 L548.55,110.52 L549.55,109.58 L550.56,108.64 L551.56,107.69 L552.56,106.75 L553.56,105.8 L554.56,104.85 L555.56,103.9 L556.56,102.95 L557.56,102 L558.56,101.05 L559.56,100.1 L560.56,99.14 L561.56,98.19 L562.56,97.23 L563.56,96.28 L564.56,95.32 L565.56,94.37 L566.56,93.41 L567.56,92.46 L568.56,91.5 L569.56,90.55 L570.56,89.59 L571.56,88.64 L572.56,87.68 L573.56,86.73 L574.56,85.77 L575.56,84.82 L576.56,83.87 L577.56,82.92 L578.57,81.97 L579.57,81.02 L580.57,80.07 L581.57,79.13 L582.57,78.18 L583.57,77.24 L584.57,76.29 L585.57,75.35 L586.57,74.42 L587.57,73.48 L588.57,72.54 L589.57,71.61 L590.57,70.68 L591.57,69.75 L592.57,68.82 L593.57,67.9 L594.57,66.98 L595.57,66.06 L596.57,65.14 L597.57,64.22 L598.57,63.31 L599.57,62.4 L600.57,61.5 L601.57,60.59 L602.57,59.7 L603.57,58.8 L604.57,57.91 L605.57,57.02 L606.57,56.13 L607.58,55.25 L608.58,54.37 L609.58,53.49 L610.58,52.62 L611.58,51.75 L612.58,50.89 L613.58,50.03 L614.58,49.18 L615.58,48.33 L616.58,47.48 L617.58,46.64 L618.58,45.8 L619.58,44.97 L620.58,44.14 L621.58,43.32 L622.58,42.5 L623.58,41.68 L624.58,40.87 L625.58,40.07 L626.58,39.27 L627.58,38.48 L628.58,37.69 L629.58,36.91 L630.58,36.13 L631.58,35.35 L632.58,34.59 L633.58,33.83 L634.58,33.07 L635.59,32.32 L636.59,31.58 L637.59,30.84 L638.59,30.1 L639.59,29.38 L640.59,28.66 L641.59,27.94 L642.59,27.23 L643.59,26.53 L644.59,25.84 L645.59,25.15 L646.59,24.46 L647.59,23.79 L648.59,23.12 L649.59,22.45 L650.59,21.8 L651.59,21.15 L652.59,20.5 L653.59,19.87 L654.59,19.24 L655.59,18.62 L656.59,18 L657.59,17.39 L658.59,16.79 L659.59,16.2 L660.59,15.62 L661.59,15.04 L662.59,14.47 L663.6,13.91 L664.6,13.35 L665.6,12.8 L666.6,12.26 L667.6,11.73 L668.6,11.21 L669.6,10.69 L670.6,10.19 L671.6,9.69 L672.6,9.2 L673.6,8.71 L674.6,8.24 L675.6,7.77 L676.6,7.32 L677.6,6.87" fill="none" stroke="#000" stroke-width="1.7"/>
<path d="M484.6,152.9 L489.8,157.7 L492.5,157.2 L497,154.5 L498,153.78 L499.01,153.05 L500.01,152.32 L501.01,151.58 L502.02,150.83 L503.02,150.08 L504.02,149.32 L505.03,148.56 L506.03,147.78 L507.03,147.01 L508.04,146.22 L509.04,145.44 L510.04,144.64 L511.05,143.84 L512.05,143.04 L513.05,142.23 L514.06,141.41 L515.06,140.59 L516.06,139.76 L517.07,138.93 L518.07,138.1 L519.07,137.26 L520.08,136.41 L521.08,135.56 L522.08,134.71 L523.09,133.85 L524.09,132.99 L525.09,132.12 L526.1,131.25 L527.1,130.37 L528.1,129.49 L529.11,128.61 L530.11,127.72 L531.11,126.83 L532.12,125.94 L533.12,125.04 L534.12,124.14 L535.13,123.24 L536.13,122.33 L537.13,121.42 L538.14,120.51 L539.14,119.59 L540.14,118.67 L541.15,117.75 L542.15,116.83 L543.15,115.9 L544.16,114.97 L545.16,114.04 L546.16,113.11 L547.17,112.17 L548.17,111.24 L549.17,110.3 L550.18,109.36 L551.18,108.41 L552.18,107.47 L553.19,106.52 L554.19,105.58 L555.19,104.63 L556.2,103.68 L557.2,102.73 L558.2,101.77 L559.21,100.82" fill="none" stroke="#ff0000" stroke-width="2" stroke-dasharray="7 8"/>
<path d="M559.21,100.82 L560.21,99.87 L561.21,98.91 L562.22,97.95 L563.22,97 L564.22,96.04 L565.23,95.08 L566.23,94.13 L567.23,93.17 L568.24,92.21 L569.24,91.25 L570.24,90.3 L571.25,89.34 L572.25,88.38 L573.25,87.42 L574.26,86.47 L575.26,85.51 L576.26,84.55 L577.27,83.6 L578.27,82.65 L579.27,81.69 L580.28,80.74 L581.28,79.79 L582.28,78.84 L583.29,77.89 L584.29,76.94 L585.29,76 L586.3,75.05 L587.3,74.11 L588.3,73.17 L589.31,72.23 L590.31,71.29 L591.31,70.36 L592.32,69.43 L593.32,68.5 L594.32,67.57 L595.33,66.64 L596.33,65.72 L597.33,64.8 L598.34,63.88 L599.34,62.97 L600.34,62.05 L601.35,61.14 L602.35,60.24 L603.35,59.33 L604.36,58.43 L605.36,57.54 L606.36,56.64 L607.37,55.75 L608.37,54.86 L609.37,53.98 L610.38,53.1 L611.38,52.23 L612.38,51.35 L613.39,50.49 L614.39,49.62 L615.39,48.76 L616.4,47.91 L617.4,47.06 L618.4,46.21 L619.41,45.37 L620.41,44.53 L621.41,43.7 L622.42,42.87 L623.42,42.05 L624.42,41.23 L625.43,40.41 L626.43,39.6 L627.43,38.8 L628.44,38 L629.44,37.21 L630.44,36.42 L631.45,35.64 L632.45,34.87 L633.45,34.1 L634.46,33.33 L635.46,32.57 L636.46,31.82 L637.47,31.07 L638.47,30.33 L639.47,29.6 L640.48,28.87 L641.48,28.15 L642.48,27.44 L643.49,26.73 L644.49,26.03 L645.49,25.33 L646.5,24.64 L647.5,23.96 L648.5,23.29 L649.51,22.62 L650.51,21.96 L651.51,21.31 L652.52,20.66 L653.52,20.03 L654.52,19.4 L655.53,18.77 L656.53,18.16 L657.53,17.55 L658.54,16.95 L659.54,16.36 L660.54,15.78 L661.55,15.2 L662.55,14.64 L663.55,14.08 L664.56,13.53 L665.56,12.99 L666.56,12.45 L667.57,11.93 L668.57,11.42 L669.57,10.91 L670.58,10.41 L671.58,9.92 L672.58,9.44 L673.59,8.97 L674.59,8.51 L675.59,8.06 L676.6,7.62 L677.6,7.19" fill="none" stroke="#ff0000" stroke-width="2" stroke-dasharray="7 8" stroke-dashoffset="11.28"/>
<path d="M486,161.81 L487,161.2 L488.01,160.57 L489.01,159.94 L490.01,159.3 L491.02,158.65 L492.02,157.99 L493.02,157.33 L494.03,156.65 L495.03,155.97 L496.03,155.28 L497.03,154.59 L498.04,153.88 L499.04,153.17 L500.04,152.45 L501.05,151.73 L502.05,150.99 L503.05,150.25 L504.06,149.5 L505.06,148.75 L506.06,147.99 L507.07,147.22 L508.07,146.45 L509.07,145.67 L510.08,144.88 L511.08,144.09 L512.08,143.29 L513.08,142.48 L514.09,141.67 L515.09,140.86 L516.09,140.03 L517.1,139.21 L518.1,138.37 L519.1,137.53 L520.11,136.69 L521.11,135.84 L522.11,134.99 L523.12,134.13 L524.12,133.26 L525.12,132.39 L526.13,131.52 L527.13,130.64 L528.13,129.76 L529.14,128.87 L530.14,127.98 L531.14,127.09 L532.14,126.19 L533.15,125.29 L534.15,124.38 L535.15,123.47 L536.16,122.56 L537.16,121.64 L538.16,120.72 L539.17,119.79 L540.17,118.87 L541.17,117.94 L542.18,117 L543.18,116.07 L544.18,115.13 L545.19,114.19 L546.19,113.24 L547.19,112.3 L548.19,111.35 L549.2,110.4 L550.2,109.44 L551.2,108.49 L552.21,107.53 L553.21,106.57 L554.21,105.61 L555.22,104.65 L556.22,103.68 L557.22,102.72 L558.23,101.75 L559.23,100.79 L560.23,99.82 L561.24,98.85 L562.24,97.88 L563.24,96.9 L564.25,95.93 L565.25,94.96 L566.25,93.99 L567.25,93.01 L568.26,92.04 L569.26,91.06 L570.26,90.09 L571.27,89.12 L572.27,88.14 L573.27,87.17 L574.28,86.2 L575.28,85.23 L576.28,84.25 L577.29,83.29 L578.29,82.32 L579.29,81.35 L580.3,80.39 L581.3,79.42 L582.3,78.46 L583.3,77.51 L584.31,76.55 L585.31,75.6 L586.31,74.65 L587.32,73.7 L588.32,72.76 L589.32,71.82 L590.33,70.89 L591.33,69.95 L592.33,69.03 L593.34,68.1 L594.34,67.19 L595.34,66.27 L596.35,65.36 L597.35,64.46 L598.35,63.56 L599.35,62.67 L600.36,61.78 L601.36,60.9 L602.36,60.03 L603.37,59.16 L604.37,58.3 L605.37,57.44 L606.38,56.59 L607.38,55.75 L608.38,54.92 L609.39,54.09 L610.39,53.27 L611.39,52.46 L612.4,51.66 L613.4,50.87 L614.4,50.08 L615.41,49.3 L616.41,48.54 L617.41,47.78 L618.41,47.03 L619.42,46.29 L620.42,45.57 L621.42,44.85 L622.43,44.15 L623.43,43.45 L624.43,42.77 L625.44,42.1 L626.44,41.45 L627.44,40.8 L628.45,40.17 L629.45,39.56 L630.45,38.95 L631.46,38.37 L632.46,37.79 L633.46,37.23 L634.46,36.69 L635.47,36.16 L636.47,35.65 L637.47,35.15 L638.48,34.66 L639.48,34.2 L640.48,33.75 L641.49,33.31 L642.49,32.89 L643.49,32.49 L644.5,32.1 L645.5,31.72 L646.5,31.37 L647.51,31.03 L648.51,30.7 L649.51,30.39 L650.52,30.1 L651.52,29.82 L652.52,29.55 L653.52,29.31 L654.53,29.07 L655.53,28.85 L656.53,28.64 L657.54,28.45 L658.54,28.27 L659.54,28.11 L660.55,27.96 L661.55,27.82 L662.55,27.7 L663.56,27.59 L664.56,27.49 L665.56,27.4 L666.57,27.33 L667.57,27.27 L668.57,27.22 L669.57,27.19 L670.58,27.16 L671.58,27.15 L672.58,27.15 L673.59,27.17 L674.59,27.19 L675.59,27.22 L676.6,27.27 L677.6,27.32" fill="none" stroke="#318a57" stroke-width="2" stroke-dasharray="2 2.05"/>
<path d="M487,161.46 L488,160.83 L489.01,160.19 L490.01,159.55 L491.01,158.9 L492.02,158.24 L493.02,157.57 L494.02,156.89 L495.03,156.21 L496.03,155.52 L497.03,154.82 L498.03,154.11 L499.04,153.39 L500.04,152.67 L501.04,151.94 L502.05,151.2 L503.05,150.46 L504.05,149.71 L505.06,148.95 L506.06,148.18 L507.06,147.41 L508.07,146.63 L509.07,145.85 L510.07,145.06 L511.08,144.26 L512.08,143.46 L513.08,142.65 L514.09,141.83 L515.09,141.01 L516.09,140.19 L517.09,139.36 L518.1,138.52 L519.1,137.67 L520.1,136.83 L521.11,135.97 L522.11,135.12 L523.11,134.25 L524.12,133.38 L525.12,132.51 L526.12,131.63 L527.13,130.75 L528.13,129.87 L529.13,128.98 L530.14,128.08 L531.14,127.18 L532.14,126.28 L533.15,125.37 L534.15,124.46 L535.15,123.55 L536.15,122.63 L537.16,121.71 L538.16,120.79 L539.16,119.86 L540.17,118.93 L541.17,118 L542.17,117.06 L543.18,116.12 L544.18,115.18 L545.18,114.24 L546.19,113.29 L547.19,112.34 L548.19,111.39 L549.2,110.44 L550.2,109.48 L551.2,108.53 L552.21,107.57 L553.21,106.61 L554.21,105.64 L555.21,104.68 L556.22,103.72 L557.22,102.75 L558.22,101.78 L559.23,100.81" fill="none" stroke="#0000ff" stroke-width="2" stroke-dasharray="8 4 2 4"/>
<path d="M559.23,100.81 L560.23,99.84 L561.23,98.87 L562.24,97.9 L563.24,96.93 L564.24,95.96 L565.25,94.99 L566.25,94.01 L567.25,93.04 L568.26,92.07 L569.26,91.1 L570.26,90.12 L571.27,89.15 L572.27,88.18 L573.27,87.21 L574.27,86.24 L575.28,85.27 L576.28,84.3 L577.28,83.34 L578.29,82.37 L579.29,81.41 L580.29,80.45 L581.3,79.49 L582.3,78.53 L583.3,77.57 L584.31,76.62 L585.31,75.67 L586.31,74.72 L587.32,73.78 L588.32,72.83 L589.32,71.89 L590.33,70.96 L591.33,70.03 L592.33,69.1 L593.33,68.18 L594.34,67.27 L595.34,66.36 L596.34,65.46 L597.35,64.56 L598.35,63.67 L599.35,62.79 L600.36,61.91 L601.36,61.05 L602.36,60.19 L603.37,59.35 L604.37,58.51 L605.37,57.68 L606.38,56.86 L607.38,56.05 L608.38,55.25 L609.39,54.47 L610.39,53.69 L611.39,52.93 L612.39,52.17 L613.4,51.43 L614.4,50.7 L615.4,49.98 L616.41,49.27 L617.41,48.58 L618.41,47.9 L619.42,47.23 L620.42,46.57 L621.42,45.93 L622.43,45.3 L623.43,44.69 L624.43,44.08 L625.44,43.5 L626.44,42.92 L627.44,42.36 L628.45,41.82 L629.45,41.29 L630.45,40.77 L631.45,40.27 L632.46,39.79 L633.46,39.32 L634.46,38.87 L635.47,38.43 L636.47,38.01 L637.47,37.61 L638.48,37.22 L639.48,36.85 L640.48,36.5 L641.49,36.16 L642.49,35.83 L643.49,35.53 L644.5,35.23 L645.5,34.95 L646.5,34.69 L647.51,34.44 L648.51,34.2 L649.51,33.98 L650.51,33.77 L651.52,33.57 L652.52,33.39 L653.52,33.22 L654.53,33.06 L655.53,32.91 L656.53,32.77 L657.54,32.65 L658.54,32.54 L659.54,32.43 L660.55,32.34 L661.55,32.26 L662.55,32.18 L663.56,32.12 L664.56,32.07 L665.56,32.02 L666.57,31.99 L667.57,31.96 L668.57,31.94 L669.57,31.93 L670.58,31.92 L671.58,31.93 L672.58,31.94 L673.59,31.95 L674.59,31.98 L675.59,32.01 L676.6,32.04 L677.6,32.08" fill="none" stroke="#0000ff" stroke-width="2" stroke-dasharray="8 4 2 4" stroke-dashoffset="0.60"/>
<path d="M484.6,162.93 L485.6,162.35 L486.6,161.75 L487.6,161.14 L488.6,160.53 L489.6,159.9 L490.6,159.27 L491.6,158.62 L492.6,157.97 L493.6,157.31 L494.6,156.64 L495.6,155.96 L496.6,155.27 L497.6,154.57 L498.6,153.86 L499.6,153.15 L500.6,152.43 L501.6,151.7 L502.6,150.96 L503.6,150.22 L504.6,149.46 L505.6,148.7 L506.6,147.94 L507.6,147.16 L508.6,146.38 L509.6,145.59 L510.6,144.8 L511.6,143.99 L512.6,143.19 L513.6,142.37 L514.6,141.55 L515.6,140.72 L516.6,139.89 L517.6,139.05 L518.6,138.21 L519.6,137.36 L520.6,136.51 L521.6,135.65 L522.6,134.78 L523.6,133.91 L524.6,133.04 L525.6,132.16 L526.6,131.27 L527.6,130.38 L528.6,129.49 L529.6,128.6 L530.6,127.69 L531.6,126.79 L532.6,125.88 L533.6,124.97 L534.6,124.05 L535.6,123.14 L536.6,122.21 L537.6,121.29 L538.6,120.36 L539.6,119.43 L540.6,118.5 L541.6,117.56 L542.6,116.62 L543.6,115.68 L544.6,114.74 L545.6,113.8 L546.6,112.85 L547.6,111.9 L548.6,110.95 L549.6,110 L550.6,109.05 L551.6,108.1 L552.6,107.15 L553.6,106.19 L554.6,105.24 L555.6,104.28 L556.6,103.32 L557.6,102.37 L558.6,101.41 L559.6,100.45" fill="none" stroke="#00ffff" stroke-width="2" stroke-dasharray="6 4 1.6 4.4 1.6 4"/>
<path d="M559.6,100.45 L560.6,99.49 L561.6,98.54 L562.6,97.58 L563.6,96.62 L564.6,95.67 L565.6,94.71 L566.6,93.75 L567.6,92.8 L568.6,91.84 L569.6,90.88 L570.6,89.92 L571.6,88.96 L572.6,88 L573.6,87.04 L574.6,86.08 L575.6,85.12 L576.6,84.16 L577.6,83.2 L578.6,82.24 L579.6,81.28 L580.6,80.31 L581.6,79.35 L582.6,78.38 L583.6,77.42 L584.6,76.47 L585.6,75.53 L586.6,74.59 L587.6,73.67 L588.6,72.76 L589.6,71.87 L590.6,71.01 L591.6,70.26 L592.6,69.69 L593.6,69.34 L594.6,69.04 L595.6,68.59 L596.6,67.94 L597.6,67.14 L598.6,66.25 L599.6,65.32 L600.6,64.41 L601.6,63.52 L602.6,62.64 L603.6,61.78 L604.6,60.94 L605.6,60.11 L606.6,59.3 L607.6,58.51 L608.6,57.73 L609.6,56.97 L610.6,56.23 L611.6,55.51 L612.6,54.8 L613.6,54.1 L614.6,53.42 L615.6,52.76 L616.6,52.12 L617.6,51.49 L618.6,50.88 L619.6,50.29 L620.6,49.71 L621.6,49.14 L622.6,48.6 L623.6,48.07 L624.6,47.55 L625.6,47.06 L626.6,46.57 L627.6,46.11 L628.6,45.66 L629.6,45.22 L630.6,44.81 L631.6,44.4 L632.6,44.02 L633.6,43.65 L634.6,43.29 L635.6,42.96 L636.6,42.63 L637.6,42.33 L638.6,42.04 L639.6,41.76 L640.6,41.5 L641.6,41.25 L642.6,41.02 L643.6,40.8 L644.6,40.6 L645.6,40.4 L646.6,40.22 L647.6,40.06 L648.6,39.9 L649.6,39.75 L650.6,39.62 L651.6,39.49 L652.6,39.37 L653.6,39.27 L654.6,39.17 L655.6,39.08 L656.6,39 L657.6,38.92 L658.6,38.86 L659.6,38.79 L660.6,38.74 L661.6,38.69 L662.6,38.64 L663.6,38.6 L664.6,38.57 L665.6,38.54 L666.6,38.51 L667.6,38.48 L668.6,38.46 L669.6,38.44 L670.6,38.42 L671.6,38.4 L672.6,38.38 L673.6,38.36 L674.6,38.34 L675.6,38.33 L676.6,38.3 L677.6,38.28" fill="none" stroke="#00ffff" stroke-width="2" stroke-dasharray="6 4 1.6 4.4 1.6 4" stroke-dashoffset="3.53"/>
<line x1="581.6" y1="132.5" x2="609.5" y2="132.5" stroke="#000" stroke-width="2"/>
<text x="613.6" y="136.7" font-size="12">literature</text>
<line x1="581.6" y1="148" x2="609.5" y2="148" stroke="#ff0000" stroke-width="2" stroke-dasharray="7 8"/>
<text x="613.6" y="152.2" font-size="12">numerical</text>
<line x1="581.6" y1="164.3" x2="609.5" y2="164.3" stroke="#318a57" stroke-width="2" stroke-dasharray="2 2.05"/>
<text x="613.6" y="168.5" font-size="12">appr. <tspan font-style="italic" dx="0.7">O</tspan>(<tspan font-size="11" dx="0.6">ε</tspan><tspan font-size="8.5" dy="-4.9" dx="0.2">8</tspan><tspan dy="4.9" dx="0.3">)</tspan></text>
<line x1="581.6" y1="181.5" x2="609.5" y2="181.5" stroke="#0000ff" stroke-width="2" stroke-dasharray="8 4 2 4"/>
<text x="613.6" y="185.7" font-size="12">appr. <tspan font-style="italic" dx="0.7">O</tspan>(<tspan font-size="11" dx="0.6">ε</tspan><tspan font-size="8.5" dy="-4.9" dx="0.2">4</tspan><tspan dy="4.9" dx="0.3">)</tspan></text>
<line x1="581.6" y1="198.6" x2="609.5" y2="198.6" stroke="#00ffff" stroke-width="2" stroke-dasharray="6 4 1.6 4.4 1.6 4"/>
<text x="613.6" y="202.8" font-size="12">appr. <tspan font-style="italic" dx="0.7">O</tspan>(<tspan font-size="11" dx="0.6">ε</tspan><tspan font-size="8.5" dy="-4.9" dx="0.2">2</tspan><tspan dy="4.9" dx="0.3">)</tspan></text>
<rect x="38.4" y="241.2" width="301" height="210.8" fill="none" stroke="#000" stroke-width="0.8"/>
<path d="M41.34,452v-2.3 M41.34,241.2v2.3 M44.04,452v-2.3 M44.04,241.2v2.3 M46.38,452v-2.3 M46.38,241.2v2.3 M48.45,452v-2.3 M48.45,241.2v2.3 M50.3,452v-4.2 M50.3,241.2v4.2 M62.46,452v-2.3 M62.46,241.2v2.3 M69.58,452v-2.3 M69.58,241.2v2.3 M74.62,452v-2.3 M74.62,241.2v2.3 M78.54,452v-2.3 M78.54,241.2v2.3 M81.74,452v-2.3 M81.74,241.2v2.3 M84.44,452v-2.3 M84.44,241.2v2.3 M86.78,452v-2.3 M86.78,241.2v2.3 M88.85,452v-2.3 M88.85,241.2v2.3 M90.7,452v-4.2 M90.7,241.2v4.2 M102.86,452v-2.3 M102.86,241.2v2.3 M109.98,452v-2.3 M109.98,241.2v2.3 M115.02,452v-2.3 M115.02,241.2v2.3 M118.94,452v-2.3 M118.94,241.2v2.3 M122.14,452v-2.3 M122.14,241.2v2.3 M124.84,452v-2.3 M124.84,241.2v2.3 M127.18,452v-2.3 M127.18,241.2v2.3 M129.25,452v-2.3 M129.25,241.2v2.3 M131.1,452v-4.2 M131.1,241.2v4.2 M143.26,452v-2.3 M143.26,241.2v2.3 M150.38,452v-2.3 M150.38,241.2v2.3 M155.42,452v-2.3 M155.42,241.2v2.3 M159.34,452v-2.3 M159.34,241.2v2.3 M162.54,452v-2.3 M162.54,241.2v2.3 M165.24,452v-2.3 M165.24,241.2v2.3 M167.58,452v-2.3 M167.58,241.2v2.3 M169.65,452v-2.3 M169.65,241.2v2.3 M171.5,452v-4.2 M171.5,241.2v4.2 M183.66,452v-2.3 M183.66,241.2v2.3 M190.78,452v-2.3 M190.78,241.2v2.3 M195.82,452v-2.3 M195.82,241.2v2.3 M199.74,452v-2.3 M199.74,241.2v2.3 M202.94,452v-2.3 M202.94,241.2v2.3 M205.64,452v-2.3 M205.64,241.2v2.3 M207.98,452v-2.3 M207.98,241.2v2.3 M210.05,452v-2.3 M210.05,241.2v2.3 M211.9,452v-4.2 M211.9,241.2v4.2 M224.06,452v-2.3 M224.06,241.2v2.3 M231.18,452v-2.3 M231.18,241.2v2.3 M236.22,452v-2.3 M236.22,241.2v2.3 M240.14,452v-2.3 M240.14,241.2v2.3 M243.34,452v-2.3 M243.34,241.2v2.3 M246.04,452v-2.3 M246.04,241.2v2.3 M248.38,452v-2.3 M248.38,241.2v2.3 M250.45,452v-2.3 M250.45,241.2v2.3 M252.3,452v-4.2 M252.3,241.2v4.2 M264.46,452v-2.3 M264.46,241.2v2.3 M271.58,452v-2.3 M271.58,241.2v2.3 M276.62,452v-2.3 M276.62,241.2v2.3 M280.54,452v-2.3 M280.54,241.2v2.3 M283.74,452v-2.3 M283.74,241.2v2.3 M286.44,452v-2.3 M286.44,241.2v2.3 M288.78,452v-2.3 M288.78,241.2v2.3 M290.85,452v-2.3 M290.85,241.2v2.3 M292.7,452v-4.2 M292.7,241.2v4.2 M304.86,452v-2.3 M304.86,241.2v2.3 M311.98,452v-2.3 M311.98,241.2v2.3 M317.02,452v-2.3 M317.02,241.2v2.3 M320.94,452v-2.3 M320.94,241.2v2.3 M324.14,452v-2.3 M324.14,241.2v2.3 M326.84,452v-2.3 M326.84,241.2v2.3 M329.18,452v-2.3 M329.18,241.2v2.3 M331.25,452v-2.3 M331.25,241.2v2.3 M333.1,452v-4.2 M333.1,241.2v4.2 M38.4,445.57h2.3 M339.4,445.57h-2.3 M38.4,441.8h2.3 M339.4,441.8h-2.3 M38.4,439.13h2.3 M339.4,439.13h-2.3 M38.4,437.06h2.3 M339.4,437.06h-2.3 M38.4,435.37h2.3 M339.4,435.37h-2.3 M38.4,433.93h2.3 M339.4,433.93h-2.3 M38.4,432.69h2.3 M339.4,432.69h-2.3 M38.4,431.6h2.3 M339.4,431.6h-2.3 M38.4,430.62h4.2 M339.4,430.62h-4.2 M38.4,424.18h2.3 M339.4,424.18h-2.3 M38.4,420.41h2.3 M339.4,420.41h-2.3 M38.4,417.74h2.3 M339.4,417.74h-2.3 M38.4,415.67h2.3 M339.4,415.67h-2.3 M38.4,413.98h2.3 M339.4,413.98h-2.3 M38.4,412.54h2.3 M339.4,412.54h-2.3 M38.4,411.3h2.3 M339.4,411.3h-2.3 M38.4,410.21h2.3 M339.4,410.21h-2.3 M38.4,409.23h4.2 M339.4,409.23h-4.2 M38.4,402.79h2.3 M339.4,402.79h-2.3 M38.4,399.02h2.3 M339.4,399.02h-2.3 M38.4,396.35h2.3 M339.4,396.35h-2.3 M38.4,394.28h2.3 M339.4,394.28h-2.3 M38.4,392.59h2.3 M339.4,392.59h-2.3 M38.4,391.15h2.3 M339.4,391.15h-2.3 M38.4,389.91h2.3 M339.4,389.91h-2.3 M38.4,388.82h2.3 M339.4,388.82h-2.3 M38.4,387.84h4.2 M339.4,387.84h-4.2 M38.4,381.4h2.3 M339.4,381.4h-2.3 M38.4,377.63h2.3 M339.4,377.63h-2.3 M38.4,374.96h2.3 M339.4,374.96h-2.3 M38.4,372.89h2.3 M339.4,372.89h-2.3 M38.4,371.2h2.3 M339.4,371.2h-2.3 M38.4,369.76h2.3 M339.4,369.76h-2.3 M38.4,368.52h2.3 M339.4,368.52h-2.3 M38.4,367.43h2.3 M339.4,367.43h-2.3 M38.4,366.45h4.2 M339.4,366.45h-4.2 M38.4,360.01h2.3 M339.4,360.01h-2.3 M38.4,356.24h2.3 M339.4,356.24h-2.3 M38.4,353.57h2.3 M339.4,353.57h-2.3 M38.4,351.5h2.3 M339.4,351.5h-2.3 M38.4,349.81h2.3 M339.4,349.81h-2.3 M38.4,348.37h2.3 M339.4,348.37h-2.3 M38.4,347.13h2.3 M339.4,347.13h-2.3 M38.4,346.04h2.3 M339.4,346.04h-2.3 M38.4,345.06h4.2 M339.4,345.06h-4.2 M38.4,338.62h2.3 M339.4,338.62h-2.3 M38.4,334.85h2.3 M339.4,334.85h-2.3 M38.4,332.18h2.3 M339.4,332.18h-2.3 M38.4,330.11h2.3 M339.4,330.11h-2.3 M38.4,328.42h2.3 M339.4,328.42h-2.3 M38.4,326.98h2.3 M339.4,326.98h-2.3 M38.4,325.74h2.3 M339.4,325.74h-2.3 M38.4,324.65h2.3 M339.4,324.65h-2.3 M38.4,323.67h4.2 M339.4,323.67h-4.2 M38.4,317.23h2.3 M339.4,317.23h-2.3 M38.4,313.46h2.3 M339.4,313.46h-2.3 M38.4,310.79h2.3 M339.4,310.79h-2.3 M38.4,308.72h2.3 M339.4,308.72h-2.3 M38.4,307.03h2.3 M339.4,307.03h-2.3 M38.4,305.59h2.3 M339.4,305.59h-2.3 M38.4,304.35h2.3 M339.4,304.35h-2.3 M38.4,303.26h2.3 M339.4,303.26h-2.3 M38.4,302.28h4.2 M339.4,302.28h-4.2 M38.4,295.84h2.3 M339.4,295.84h-2.3 M38.4,292.07h2.3 M339.4,292.07h-2.3 M38.4,289.4h2.3 M339.4,289.4h-2.3 M38.4,287.33h2.3 M339.4,287.33h-2.3 M38.4,285.64h2.3 M339.4,285.64h-2.3 M38.4,284.2h2.3 M339.4,284.2h-2.3 M38.4,282.96h2.3 M339.4,282.96h-2.3 M38.4,281.87h2.3 M339.4,281.87h-2.3 M38.4,280.89h4.2 M339.4,280.89h-4.2 M38.4,274.45h2.3 M339.4,274.45h-2.3 M38.4,270.68h2.3 M339.4,270.68h-2.3 M38.4,268.01h2.3 M339.4,268.01h-2.3 M38.4,265.94h2.3 M339.4,265.94h-2.3 M38.4,264.25h2.3 M339.4,264.25h-2.3 M38.4,262.81h2.3 M339.4,262.81h-2.3 M38.4,261.57h2.3 M339.4,261.57h-2.3 M38.4,260.48h2.3 M339.4,260.48h-2.3 M38.4,259.5h4.2 M339.4,259.5h-4.2 M38.4,253.06h2.3 M339.4,253.06h-2.3 M38.4,249.29h2.3 M339.4,249.29h-2.3 M38.4,246.62h2.3 M339.4,246.62h-2.3 M38.4,244.55h2.3 M339.4,244.55h-2.3 M38.4,242.86h2.3 M339.4,242.86h-2.3" stroke="#000" stroke-width="0.8" fill="none"/>
<text transform="translate(41.64,466.8) scale(0.9,1)" font-size="11.0">10</text><text transform="translate(52.8,462.3) scale(1.0,1)" font-size="7.6">-3</text>
<text transform="translate(82.04,466.8) scale(0.9,1)" font-size="11.0">10</text><text transform="translate(93.2,462.3) scale(1.0,1)" font-size="7.6">-2</text>
<text transform="translate(122.44,466.8) scale(0.9,1)" font-size="11.0">10</text><text transform="translate(133.6,462.3) scale(1.0,1)" font-size="7.6">-1</text>
<text transform="translate(164.11,466.8) scale(0.9,1)" font-size="11.0">10</text><text transform="translate(175.27,462.3) scale(1.0,1)" font-size="7.6">0</text>
<text transform="translate(204.51,466.8) scale(0.9,1)" font-size="11.0">10</text><text transform="translate(215.67,462.3) scale(1.0,1)" font-size="7.6">1</text>
<text transform="translate(244.91,466.8) scale(0.9,1)" font-size="11.0">10</text><text transform="translate(256.07,462.3) scale(1.0,1)" font-size="7.6">2</text>
<text transform="translate(285.31,466.8) scale(0.9,1)" font-size="11.0">10</text><text transform="translate(296.47,462.3) scale(1.0,1)" font-size="7.6">3</text>
<text transform="translate(325.71,466.8) scale(0.9,1)" font-size="11.0">10</text><text transform="translate(336.87,462.3) scale(1.0,1)" font-size="7.6">4</text>
<text transform="translate(16.28,456.41) scale(0.9,1)" font-size="11.0">10</text><text transform="translate(27.44,451.91) scale(1.0,1)" font-size="7.6">-5</text>
<text transform="translate(16.28,435.02) scale(0.9,1)" font-size="11.0">10</text><text transform="translate(27.44,430.52) scale(1.0,1)" font-size="7.6">-4</text>
<text transform="translate(16.28,413.63) scale(0.9,1)" font-size="11.0">10</text><text transform="translate(27.44,409.13) scale(1.0,1)" font-size="7.6">-3</text>
<text transform="translate(16.28,392.24) scale(0.9,1)" font-size="11.0">10</text><text transform="translate(27.44,387.74) scale(1.0,1)" font-size="7.6">-2</text>
<text transform="translate(16.28,370.85) scale(0.9,1)" font-size="11.0">10</text><text transform="translate(27.44,366.35) scale(1.0,1)" font-size="7.6">-1</text>
<text transform="translate(18.82,349.46) scale(0.9,1)" font-size="11.0">10</text><text transform="translate(29.97,344.96) scale(1.0,1)" font-size="7.6">0</text>
<text transform="translate(18.82,328.07) scale(0.9,1)" font-size="11.0">10</text><text transform="translate(29.97,323.57) scale(1.0,1)" font-size="7.6">1</text>
<text transform="translate(18.82,306.68) scale(0.9,1)" font-size="11.0">10</text><text transform="translate(29.97,302.18) scale(1.0,1)" font-size="7.6">2</text>
<text transform="translate(18.82,285.29) scale(0.9,1)" font-size="11.0">10</text><text transform="translate(29.97,280.79) scale(1.0,1)" font-size="7.6">3</text>
<text transform="translate(18.82,263.9) scale(0.9,1)" font-size="11.0">10</text><text transform="translate(29.97,259.4) scale(1.0,1)" font-size="7.6">4</text>
<text x="62.3" y="273.4" font-size="13" font-weight="bold">oxygen</text>
<path d="M49.7,432.36 L50.7,431.99 L51.7,431.63 L52.7,431.26 L53.7,430.9 L54.7,430.54 L55.7,430.18 L56.7,429.82 L57.7,429.46 L58.7,429.11 L59.7,428.75 L60.7,428.4 L61.7,428.05 L62.7,427.7 L63.7,427.35 L64.71,427 L65.71,426.65 L66.71,426.3 L67.71,425.96 L68.71,425.61 L69.71,425.27 L70.71,424.93 L71.71,424.58 L72.71,424.24 L73.71,423.9 L74.71,423.56 L75.71,423.23 L76.71,422.89 L77.71,422.55 L78.71,422.22 L79.71,421.88 L80.71,421.55 L81.71,421.21 L82.71,420.88 L83.71,420.55 L84.71,420.22 L85.71,419.89 L86.71,419.55 L87.71,419.23 L88.71,418.9 L89.71,418.57 L90.71,418.24 L91.71,417.91 L92.72,417.58 L93.72,417.26 L94.72,416.93 L95.72,416.61 L96.72,416.28 L97.72,415.96 L98.72,415.63 L99.72,415.31 L100.72,414.98 L101.72,414.66 L102.72,414.33 L103.72,414.01 L104.72,413.69 L105.72,413.36 L106.72,413.04 L107.72,412.71 L108.72,412.38 L109.72,412.05 L110.72,411.72 L111.72,411.39 L112.72,411.05 L113.72,410.71 L114.72,410.37 L115.72,410.02 L116.72,409.68 L117.72,409.32 L118.72,408.97 L119.72,408.61 L120.73,408.24 L121.73,407.87 L122.73,407.5 L123.73,407.12 L124.73,406.73 L125.73,406.34 L126.73,405.94 L127.73,405.54 L128.73,405.12 L129.73,404.71 L130.73,404.28 L131.73,403.85 L132.73,403.41 L133.73,402.96 L134.73,402.51 L135.73,402.05 L136.73,401.58 L137.73,401.1 L138.73,400.61 L139.73,400.11 L140.73,399.61 L141.73,399.09 L142.73,398.57 L143.73,398.04 L144.73,397.5 L145.73,396.94 L146.73,396.38 L147.73,395.81 L148.73,395.23 L149.74,394.63 L150.74,394.03 L151.74,393.41 L152.74,392.79 L153.74,392.15 L154.74,391.51 L155.74,390.85 L156.74,390.18 L157.74,389.5 L158.74,388.82 L159.74,388.12 L160.74,387.41 L161.74,386.7 L162.74,385.97 L163.74,385.24 L164.74,384.5 L165.74,383.75 L166.74,382.99 L167.74,382.22 L168.74,381.45 L169.74,380.66 L170.74,379.87 L171.74,379.08 L172.74,378.27 L173.74,377.46 L174.74,376.64 L175.74,375.82 L176.74,374.98 L177.75,374.15 L178.75,373.3 L179.75,372.45 L180.75,371.6 L181.75,370.73 L182.75,369.87 L183.75,369 L184.75,368.12 L185.75,367.24 L186.75,366.35 L187.75,365.46 L188.75,364.56 L189.75,363.66 L190.75,362.76 L191.75,361.86 L192.75,360.94 L193.75,360.03 L194.75,359.11 L195.75,358.19 L196.75,357.27 L197.75,356.35 L198.75,355.42 L199.75,354.49 L200.75,353.56 L201.75,352.62 L202.75,351.69 L203.75,350.75 L204.75,349.81 L205.76,348.87 L206.76,347.93 L207.76,346.99 L208.76,346.04 L209.76,345.1 L210.76,344.15 L211.76,343.2 L212.76,342.25 L213.76,341.3 L214.76,340.35 L215.76,339.4 L216.76,338.45 L217.76,337.5 L218.76,336.54 L219.76,335.59 L220.76,334.64 L221.76,333.68 L222.76,332.73 L223.76,331.78 L224.76,330.82 L225.76,329.87 L226.76,328.91 L227.76,327.96 L228.76,327.01 L229.76,326.06 L230.76,325.11 L231.76,324.15 L232.76,323.2 L233.77,322.25 L234.77,321.31 L235.77,320.36 L236.77,319.41 L237.77,318.47 L238.77,317.52 L239.77,316.58 L240.77,315.64 L241.77,314.7 L242.77,313.76 L243.77,312.83 L244.77,311.89 L245.77,310.96 L246.77,310.03 L247.77,309.1 L248.77,308.17 L249.77,307.25 L250.77,306.33 L251.77,305.41 L252.77,304.49 L253.77,303.58 L254.77,302.66 L255.77,301.75 L256.77,300.85 L257.77,299.94 L258.77,299.04 L259.77,298.15 L260.77,297.25 L261.77,296.36 L262.78,295.47 L263.78,294.59 L264.78,293.71 L265.78,292.83 L266.78,291.96 L267.78,291.09 L268.78,290.22 L269.78,289.36 L270.78,288.5 L271.78,287.65 L272.78,286.8 L273.78,285.95 L274.78,285.11 L275.78,284.27 L276.78,283.44 L277.78,282.61 L278.78,281.79 L279.78,280.97 L280.78,280.16 L281.78,279.35 L282.78,278.55 L283.78,277.75 L284.78,276.95 L285.78,276.17 L286.78,275.38 L287.78,274.6 L288.78,273.83 L289.78,273.06 L290.79,272.3 L291.79,271.55 L292.79,270.8 L293.79,270.05 L294.79,269.31 L295.79,268.58 L296.79,267.86 L297.79,267.14 L298.79,266.42 L299.79,265.71 L300.79,265.01 L301.79,264.32 L302.79,263.63 L303.79,262.95 L304.79,262.27 L305.79,261.6 L306.79,260.94 L307.79,260.29 L308.79,259.64 L309.79,259 L310.79,258.36 L311.79,257.74 L312.79,257.12 L313.79,256.51 L314.79,255.9 L315.79,255.3 L316.79,254.72 L317.79,254.13 L318.8,253.56 L319.8,252.99 L320.8,252.44 L321.8,251.89 L322.8,251.34 L323.8,250.81 L324.8,250.28 L325.8,249.77 L326.8,249.26 L327.8,248.76 L328.8,248.26 L329.8,247.78 L330.8,247.31 L331.8,246.84 L332.8,246.38" fill="none" stroke="#000" stroke-width="1.7"/>
<path d="M141.5,389 L144.5,394.5 L147,396.6 L152,394.76 L153,394.04 L154.01,393.32 L155.01,392.58 L156.02,391.85 L157.02,391.1 L158.03,390.35 L159.03,389.59 L160.04,388.83 L161.04,388.06 L162.04,387.29 L163.05,386.51 L164.05,385.72 L165.06,384.93 L166.06,384.13 L167.07,383.33 L168.07,382.52 L169.08,381.71 L170.08,380.89 L171.08,380.07 L172.09,379.24 L173.09,378.41 L174.1,377.57 L175.1,376.73 L176.11,375.88 L177.11,375.03 L178.12,374.17 L179.12,373.31 L180.12,372.45 L181.13,371.58 L182.13,370.71 L183.14,369.83 L184.14,368.95 L185.15,368.07 L186.15,367.18 L187.16,366.29 L188.16,365.39 L189.16,364.5 L190.17,363.6 L191.17,362.69 L192.18,361.78 L193.18,360.87 L194.19,359.96 L195.19,359.04 L196.2,358.12 L197.2,357.2 L198.2,356.28 L199.21,355.35 L200.21,354.42 L201.22,353.49 L202.22,352.56 L203.23,351.62 L204.23,350.69 L205.24,349.75 L206.24,348.8 L207.24,347.86 L208.25,346.92 L209.25,345.97 L210.26,345.02 L211.26,344.07 L212.27,343.12 L213.27,342.17 L214.28,341.22" fill="none" stroke="#ff0000" stroke-width="2" stroke-dasharray="7 8"/>
<path d="M214.28,341.22 L215.28,340.27 L216.28,339.31 L217.29,338.36 L218.29,337.4 L219.3,336.44 L220.3,335.49 L221.31,334.53 L222.31,333.57 L223.32,332.61 L224.32,331.65 L225.32,330.7 L226.33,329.74 L227.33,328.78 L228.34,327.82 L229.34,326.86 L230.35,325.9 L231.35,324.95 L232.36,323.99 L233.36,323.03 L234.36,322.08 L235.37,321.13 L236.37,320.17 L237.38,319.22 L238.38,318.27 L239.39,317.32 L240.39,316.37 L241.4,315.42 L242.4,314.48 L243.4,313.53 L244.41,312.59 L245.41,311.65 L246.42,310.71 L247.42,309.77 L248.43,308.84 L249.43,307.9 L250.44,306.97 L251.44,306.04 L252.44,305.12 L253.45,304.19 L254.45,303.27 L255.46,302.35 L256.46,301.44 L257.47,300.52 L258.47,299.61 L259.48,298.71 L260.48,297.8 L261.48,296.9 L262.49,296.01 L263.49,295.11 L264.5,294.22 L265.5,293.33 L266.51,292.45 L267.51,291.57 L268.52,290.7 L269.52,289.82 L270.52,288.96 L271.53,288.09 L272.53,287.23 L273.54,286.38 L274.54,285.53 L275.55,284.68 L276.55,283.84 L277.56,283 L278.56,282.17 L279.56,281.34 L280.57,280.52 L281.57,279.7 L282.58,278.89 L283.58,278.09 L284.59,277.28 L285.59,276.49 L286.6,275.7 L287.6,274.91 L288.6,274.13 L289.61,273.36 L290.61,272.59 L291.62,271.83 L292.62,271.07 L293.63,270.32 L294.63,269.58 L295.64,268.84 L296.64,268.11 L297.64,267.39 L298.65,266.67 L299.65,265.96 L300.66,265.25 L301.66,264.56 L302.67,263.87 L303.67,263.18 L304.68,262.51 L305.68,261.84 L306.68,261.18 L307.69,260.52 L308.69,259.87 L309.7,259.24 L310.7,258.6 L311.71,257.98 L312.71,257.36 L313.72,256.76 L314.72,256.16 L315.72,255.57 L316.73,254.98 L317.73,254.41 L318.74,253.84 L319.74,253.28 L320.75,252.73 L321.75,252.19 L322.76,251.66 L323.76,251.14 L324.76,250.62 L325.77,250.12 L326.77,249.62 L327.78,249.13 L328.78,248.66 L329.79,248.19 L330.79,247.73 L331.8,247.28 L332.8,246.84" fill="none" stroke="#ff0000" stroke-width="2" stroke-dasharray="7 8" stroke-dashoffset="9.86"/>
<path d="M141.2,401.99 L142.2,401.37 L143.21,400.75 L144.21,400.11 L145.21,399.47 L146.22,398.81 L147.22,398.15 L148.22,397.49 L149.23,396.81 L150.23,396.13 L151.23,395.44 L152.23,394.74 L153.24,394.04 L154.24,393.32 L155.24,392.6 L156.25,391.88 L157.25,391.14 L158.25,390.4 L159.26,389.65 L160.26,388.9 L161.26,388.14 L162.27,387.37 L163.27,386.6 L164.27,385.82 L165.28,385.03 L166.28,384.24 L167.28,383.44 L168.28,382.64 L169.29,381.83 L170.29,381.01 L171.29,380.19 L172.3,379.37 L173.3,378.53 L174.3,377.7 L175.31,376.86 L176.31,376.01 L177.31,375.16 L178.32,374.3 L179.32,373.44 L180.32,372.57 L181.33,371.7 L182.33,370.82 L183.33,369.94 L184.34,369.06 L185.34,368.17 L186.34,367.28 L187.34,366.38 L188.35,365.48 L189.35,364.58 L190.35,363.67 L191.36,362.76 L192.36,361.84 L193.36,360.93 L194.37,360 L195.37,359.08 L196.37,358.15 L197.38,357.22 L198.38,356.29 L199.38,355.35 L200.39,354.41 L201.39,353.47 L202.39,352.53 L203.39,351.58 L204.4,350.63 L205.4,349.68 L206.4,348.73 L207.41,347.77 L208.41,346.82 L209.41,345.86 L210.42,344.9 L211.42,343.94 L212.42,342.97 L213.43,342.01 L214.43,341.04 L215.43,340.08 L216.44,339.11 L217.44,338.14 L218.44,337.17 L219.45,336.2 L220.45,335.23 L221.45,334.26 L222.45,333.28 L223.46,332.31 L224.46,331.34 L225.46,330.37 L226.47,329.39 L227.47,328.42 L228.47,327.45 L229.48,326.48 L230.48,325.5 L231.48,324.53 L232.49,323.56 L233.49,322.6 L234.49,321.63 L235.5,320.67 L236.5,319.7 L237.5,318.74 L238.5,317.78 L239.51,316.83 L240.51,315.88 L241.51,314.93 L242.52,313.98 L243.52,313.03 L244.52,312.09 L245.53,311.16 L246.53,310.23 L247.53,309.3 L248.54,308.37 L249.54,307.45 L250.54,306.54 L251.55,305.63 L252.55,304.72 L253.55,303.82 L254.55,302.93 L255.56,302.04 L256.56,301.16 L257.56,300.28 L258.57,299.41 L259.57,298.54 L260.57,297.69 L261.58,296.84 L262.58,295.99 L263.58,295.16 L264.59,294.33 L265.59,293.51 L266.59,292.69 L267.6,291.89 L268.6,291.09 L269.6,290.3 L270.61,289.52 L271.61,288.75 L272.61,287.99 L273.61,287.24 L274.62,286.5 L275.62,285.77 L276.62,285.05 L277.63,284.34 L278.63,283.65 L279.63,282.97 L280.64,282.29 L281.64,281.64 L282.64,280.99 L283.65,280.36 L284.65,279.74 L285.65,279.14 L286.66,278.55 L287.66,277.97 L288.66,277.41 L289.66,276.87 L290.67,276.34 L291.67,275.82 L292.67,275.33 L293.68,274.84 L294.68,274.38 L295.68,273.93 L296.69,273.49 L297.69,273.07 L298.69,272.67 L299.7,272.28 L300.7,271.91 L301.7,271.56 L302.71,271.22 L303.71,270.9 L304.71,270.59 L305.72,270.3 L306.72,270.02 L307.72,269.76 L308.72,269.51 L309.73,269.28 L310.73,269.06 L311.73,268.86 L312.74,268.67 L313.74,268.49 L314.74,268.33 L315.75,268.18 L316.75,268.04 L317.75,267.92 L318.76,267.81 L319.76,267.71 L320.76,267.62 L321.77,267.55 L322.77,267.49 L323.77,267.44 L324.77,267.4 L325.78,267.38 L326.78,267.36 L327.78,267.36 L328.79,267.37 L329.79,267.38 L330.79,267.41 L331.8,267.45 L332.8,267.5" fill="none" stroke="#318a57" stroke-width="2" stroke-dasharray="2 2.05"/>
<path d="M142.2,401.63 L143.2,401 L144.21,400.36 L145.21,399.72 L146.21,399.06 L147.22,398.4 L148.22,397.73 L149.22,397.05 L150.23,396.36 L151.23,395.67 L152.23,394.97 L153.23,394.26 L154.24,393.55 L155.24,392.82 L156.24,392.09 L157.25,391.35 L158.25,390.61 L159.25,389.86 L160.26,389.1 L161.26,388.34 L162.26,387.56 L163.27,386.79 L164.27,386 L165.27,385.21 L166.28,384.42 L167.28,383.61 L168.28,382.81 L169.29,381.99 L170.29,381.17 L171.29,380.35 L172.29,379.52 L173.3,378.68 L174.3,377.84 L175.3,376.99 L176.31,376.14 L177.31,375.29 L178.31,374.42 L179.32,373.56 L180.32,372.69 L181.32,371.81 L182.33,370.93 L183.33,370.05 L184.33,369.16 L185.34,368.27 L186.34,367.37 L187.34,366.47 L188.35,365.57 L189.35,364.66 L190.35,363.75 L191.35,362.83 L192.36,361.92 L193.36,360.99 L194.36,360.07 L195.37,359.14 L196.37,358.21 L197.37,357.28 L198.38,356.34 L199.38,355.4 L200.38,354.46 L201.39,353.52 L202.39,352.57 L203.39,351.62 L204.4,350.67 L205.4,349.72 L206.4,348.76 L207.41,347.81 L208.41,346.85 L209.41,345.89 L210.41,344.93 L211.42,343.97 L212.42,343 L213.42,342.04 L214.43,341.07" fill="none" stroke="#0000ff" stroke-width="2" stroke-dasharray="8 4 2 4"/>
<path d="M214.43,341.07 L215.43,340.1 L216.43,339.14 L217.44,338.17 L218.44,337.2 L219.44,336.23 L220.45,335.26 L221.45,334.29 L222.45,333.31 L223.46,332.34 L224.46,331.37 L225.46,330.4 L226.47,329.43 L227.47,328.46 L228.47,327.49 L229.47,326.52 L230.48,325.55 L231.48,324.59 L232.48,323.62 L233.49,322.66 L234.49,321.69 L235.49,320.73 L236.5,319.77 L237.5,318.81 L238.5,317.86 L239.51,316.9 L240.51,315.95 L241.51,315 L242.52,314.06 L243.52,313.11 L244.52,312.17 L245.53,311.23 L246.53,310.3 L247.53,309.37 L248.53,308.45 L249.54,307.53 L250.54,306.62 L251.54,305.72 L252.55,304.82 L253.55,303.93 L254.55,303.04 L255.56,302.17 L256.56,301.3 L257.56,300.44 L258.57,299.59 L259.57,298.75 L260.57,297.92 L261.58,297.09 L262.58,296.28 L263.58,295.48 L264.59,294.69 L265.59,293.92 L266.59,293.15 L267.59,292.39 L268.6,291.65 L269.6,290.91 L270.6,290.19 L271.61,289.48 L272.61,288.79 L273.61,288.1 L274.62,287.43 L275.62,286.77 L276.62,286.13 L277.63,285.5 L278.63,284.88 L279.63,284.28 L280.64,283.69 L281.64,283.11 L282.64,282.55 L283.65,282.01 L284.65,281.48 L285.65,280.96 L286.65,280.46 L287.66,279.98 L288.66,279.51 L289.66,279.05 L290.67,278.62 L291.67,278.2 L292.67,277.8 L293.68,277.41 L294.68,277.04 L295.68,276.68 L296.69,276.35 L297.69,276.02 L298.69,275.72 L299.7,275.43 L300.7,275.15 L301.7,274.89 L302.71,274.64 L303.71,274.4 L304.71,274.18 L305.71,273.97 L306.72,273.78 L307.72,273.59 L308.72,273.42 L309.73,273.26 L310.73,273.12 L311.73,272.98 L312.74,272.86 L313.74,272.75 L314.74,272.64 L315.75,272.55 L316.75,272.47 L317.75,272.4 L318.76,272.33 L319.76,272.28 L320.76,272.23 L321.77,272.2 L322.77,272.17 L323.77,272.15 L324.77,272.14 L325.78,272.13 L326.78,272.13 L327.78,272.14 L328.79,272.15 L329.79,272.18 L330.79,272.2 L331.8,272.23 L332.8,272.27" fill="none" stroke="#0000ff" stroke-width="2" stroke-dasharray="8 4 2 4" stroke-dashoffset="0.97"/>
<path d="M139.8,403.1 L140.8,402.52 L141.8,401.92 L142.8,401.31 L143.8,400.69 L144.8,400.07 L145.8,399.43 L146.8,398.78 L147.8,398.13 L148.8,397.47 L149.8,396.79 L150.8,396.11 L151.8,395.42 L152.8,394.73 L153.8,394.02 L154.8,393.3 L155.8,392.58 L156.8,391.85 L157.8,391.12 L158.8,390.37 L159.8,389.62 L160.8,388.86 L161.8,388.09 L162.8,387.32 L163.8,386.54 L164.8,385.75 L165.8,384.95 L166.8,384.15 L167.8,383.35 L168.8,382.53 L169.8,381.71 L170.8,380.89 L171.8,380.06 L172.8,379.22 L173.8,378.38 L174.8,377.53 L175.8,376.68 L176.8,375.82 L177.8,374.95 L178.8,374.08 L179.8,373.21 L180.8,372.33 L181.8,371.45 L182.8,370.57 L183.8,369.68 L184.8,368.78 L185.8,367.88 L186.8,366.98 L187.8,366.07 L188.8,365.16 L189.8,364.25 L190.8,363.33 L191.8,362.41 L192.8,361.49 L193.8,360.57 L194.8,359.64 L195.8,358.71 L196.8,357.77 L197.8,356.84 L198.8,355.9 L199.8,354.96 L200.8,354.02 L201.8,353.08 L202.8,352.13 L203.8,351.18 L204.8,350.24 L205.8,349.29 L206.8,348.34 L207.8,347.39 L208.8,346.43 L209.8,345.48 L210.8,344.53 L211.8,343.57 L212.8,342.62 L213.8,341.66 L214.8,340.71" fill="none" stroke="#00ffff" stroke-width="2" stroke-dasharray="6 4 1.6 4.4 1.6 4"/>
<path d="M214.8,340.71 L215.8,339.76 L216.8,338.8 L217.8,337.85 L218.8,336.89 L219.8,335.94 L220.8,334.98 L221.8,334.03 L222.8,333.07 L223.8,332.12 L224.8,331.16 L225.8,330.2 L226.8,329.24 L227.8,328.29 L228.8,327.33 L229.8,326.37 L230.8,325.41 L231.8,324.45 L232.8,323.49 L233.8,322.52 L234.8,321.56 L235.8,320.59 L236.8,319.63 L237.8,318.66 L238.8,317.7 L239.8,316.75 L240.8,315.8 L241.8,314.87 L242.8,313.95 L243.8,313.05 L244.8,312.16 L245.8,311.31 L246.8,310.56 L247.8,309.97 L248.8,309.59 L249.8,309.26 L250.8,308.78 L251.8,308.12 L252.8,307.31 L253.8,306.42 L254.8,305.5 L255.8,304.59 L256.8,303.7 L257.8,302.83 L258.8,301.97 L259.8,301.13 L260.8,300.31 L261.8,299.5 L262.8,298.71 L263.8,297.94 L264.8,297.18 L265.8,296.44 L266.8,295.71 L267.8,295 L268.8,294.31 L269.8,293.63 L270.8,292.97 L271.8,292.33 L272.8,291.7 L273.8,291.09 L274.8,290.49 L275.8,289.91 L276.8,289.35 L277.8,288.8 L278.8,288.27 L279.8,287.76 L280.8,287.26 L281.8,286.78 L282.8,286.31 L283.8,285.86 L284.8,285.43 L285.8,285.01 L286.8,284.6 L287.8,284.22 L288.8,283.85 L289.8,283.49 L290.8,283.15 L291.8,282.83 L292.8,282.52 L293.8,282.23 L294.8,281.96 L295.8,281.69 L296.8,281.45 L297.8,281.22 L298.8,281 L299.8,280.79 L300.8,280.6 L301.8,280.42 L302.8,280.25 L303.8,280.1 L304.8,279.95 L305.8,279.81 L306.8,279.69 L307.8,279.57 L308.8,279.47 L309.8,279.37 L310.8,279.28 L311.8,279.2 L312.8,279.12 L313.8,279.06 L314.8,279 L315.8,278.94 L316.8,278.89 L317.8,278.85 L318.8,278.81 L319.8,278.77 L320.8,278.74 L321.8,278.71 L322.8,278.69 L323.8,278.66 L324.8,278.64 L325.8,278.62 L326.8,278.6 L327.8,278.58 L328.8,278.56 L329.8,278.55 L330.8,278.53 L331.8,278.5 L332.8,278.48" fill="none" stroke="#00ffff" stroke-width="2" stroke-dasharray="6 4 1.6 4.4 1.6 4" stroke-dashoffset="6.73"/>
<line x1="236.8" y1="371.4" x2="264.9" y2="371.4" stroke="#000" stroke-width="2"/>
<text x="269.1" y="375.6" font-size="12">literature</text>
<line x1="236.8" y1="387.2" x2="264.9" y2="387.2" stroke="#ff0000" stroke-width="2" stroke-dasharray="7 8"/>
<text x="269.1" y="391.4" font-size="12">numerical</text>
<line x1="236.8" y1="403.7" x2="264.9" y2="403.7" stroke="#318a57" stroke-width="2" stroke-dasharray="2 2.05"/>
<text x="269.1" y="407.9" font-size="12">appr. <tspan font-style="italic" dx="0.7">O</tspan>(<tspan font-size="11" dx="0.6">ε</tspan><tspan font-size="8.5" dy="-4.9" dx="0.2">2</tspan><tspan dy="4.9" dx="0.3">)</tspan></text>
<line x1="236.8" y1="420.6" x2="264.9" y2="420.6" stroke="#0000ff" stroke-width="2" stroke-dasharray="8 4 2 4"/>
<text x="269.1" y="424.8" font-size="12">appr. <tspan font-style="italic" dx="0.7">O</tspan>(<tspan font-size="11" dx="0.6">ε</tspan><tspan font-size="8.5" dy="-4.9" dx="0.2">2</tspan><tspan dy="4.9" dx="0.3">)</tspan></text>
<line x1="236.8" y1="437.7" x2="264.9" y2="437.7" stroke="#00ffff" stroke-width="2" stroke-dasharray="6 4 1.6 4.4 1.6 4"/>
<text x="269.1" y="441.9" font-size="12">appr. <tspan font-style="italic" dx="0.7">O</tspan>(<tspan font-size="11" dx="0.6">ε</tspan><tspan font-size="8.5" dy="-4.9" dx="0.2">2</tspan><tspan dy="4.9" dx="0.3">)</tspan></text>
<rect x="383" y="241.2" width="300.8" height="210.8" fill="none" stroke="#000" stroke-width="0.8"/>
<path d="M385.74,452v-2.3 M385.74,241.2v2.3 M388.44,452v-2.3 M388.44,241.2v2.3 M390.78,452v-2.3 M390.78,241.2v2.3 M392.85,452v-2.3 M392.85,241.2v2.3 M394.7,452v-4.2 M394.7,241.2v4.2 M406.86,452v-2.3 M406.86,241.2v2.3 M413.98,452v-2.3 M413.98,241.2v2.3 M419.02,452v-2.3 M419.02,241.2v2.3 M422.94,452v-2.3 M422.94,241.2v2.3 M426.14,452v-2.3 M426.14,241.2v2.3 M428.84,452v-2.3 M428.84,241.2v2.3 M431.18,452v-2.3 M431.18,241.2v2.3 M433.25,452v-2.3 M433.25,241.2v2.3 M435.1,452v-4.2 M435.1,241.2v4.2 M447.26,452v-2.3 M447.26,241.2v2.3 M454.38,452v-2.3 M454.38,241.2v2.3 M459.42,452v-2.3 M459.42,241.2v2.3 M463.34,452v-2.3 M463.34,241.2v2.3 M466.54,452v-2.3 M466.54,241.2v2.3 M469.24,452v-2.3 M469.24,241.2v2.3 M471.58,452v-2.3 M471.58,241.2v2.3 M473.65,452v-2.3 M473.65,241.2v2.3 M475.5,452v-4.2 M475.5,241.2v4.2 M487.66,452v-2.3 M487.66,241.2v2.3 M494.78,452v-2.3 M494.78,241.2v2.3 M499.82,452v-2.3 M499.82,241.2v2.3 M503.74,452v-2.3 M503.74,241.2v2.3 M506.94,452v-2.3 M506.94,241.2v2.3 M509.64,452v-2.3 M509.64,241.2v2.3 M511.98,452v-2.3 M511.98,241.2v2.3 M514.05,452v-2.3 M514.05,241.2v2.3 M515.9,452v-4.2 M515.9,241.2v4.2 M528.06,452v-2.3 M528.06,241.2v2.3 M535.18,452v-2.3 M535.18,241.2v2.3 M540.22,452v-2.3 M540.22,241.2v2.3 M544.14,452v-2.3 M544.14,241.2v2.3 M547.34,452v-2.3 M547.34,241.2v2.3 M550.04,452v-2.3 M550.04,241.2v2.3 M552.38,452v-2.3 M552.38,241.2v2.3 M554.45,452v-2.3 M554.45,241.2v2.3 M556.3,452v-4.2 M556.3,241.2v4.2 M568.46,452v-2.3 M568.46,241.2v2.3 M575.58,452v-2.3 M575.58,241.2v2.3 M580.62,452v-2.3 M580.62,241.2v2.3 M584.54,452v-2.3 M584.54,241.2v2.3 M587.74,452v-2.3 M587.74,241.2v2.3 M590.44,452v-2.3 M590.44,241.2v2.3 M592.78,452v-2.3 M592.78,241.2v2.3 M594.85,452v-2.3 M594.85,241.2v2.3 M596.7,452v-4.2 M596.7,241.2v4.2 M608.86,452v-2.3 M608.86,241.2v2.3 M615.98,452v-2.3 M615.98,241.2v2.3 M621.02,452v-2.3 M621.02,241.2v2.3 M624.94,452v-2.3 M624.94,241.2v2.3 M628.14,452v-2.3 M628.14,241.2v2.3 M630.84,452v-2.3 M630.84,241.2v2.3 M633.18,452v-2.3 M633.18,241.2v2.3 M635.25,452v-2.3 M635.25,241.2v2.3 M637.1,452v-4.2 M637.1,241.2v4.2 M649.26,452v-2.3 M649.26,241.2v2.3 M656.38,452v-2.3 M656.38,241.2v2.3 M661.42,452v-2.3 M661.42,241.2v2.3 M665.34,452v-2.3 M665.34,241.2v2.3 M668.54,452v-2.3 M668.54,241.2v2.3 M671.24,452v-2.3 M671.24,241.2v2.3 M673.58,452v-2.3 M673.58,241.2v2.3 M675.65,452v-2.3 M675.65,241.2v2.3 M677.5,452v-4.2 M677.5,241.2v4.2 M383,446.14h2.3 M683.8,446.14h-2.3 M383,442.72h2.3 M683.8,442.72h-2.3 M383,440.29h2.3 M683.8,440.29h-2.3 M383,438.41h2.3 M683.8,438.41h-2.3 M383,436.86h2.3 M683.8,436.86h-2.3 M383,435.56h2.3 M683.8,435.56h-2.3 M383,434.43h2.3 M683.8,434.43h-2.3 M383,433.44h2.3 M683.8,433.44h-2.3 M383,432.55h4.2 M683.8,432.55h-4.2 M383,426.69h2.3 M683.8,426.69h-2.3 M383,423.27h2.3 M683.8,423.27h-2.3 M383,420.84h2.3 M683.8,420.84h-2.3 M383,418.96h2.3 M683.8,418.96h-2.3 M383,417.41h2.3 M683.8,417.41h-2.3 M383,416.11h2.3 M683.8,416.11h-2.3 M383,414.98h2.3 M683.8,414.98h-2.3 M383,413.99h2.3 M683.8,413.99h-2.3 M383,413.1h4.2 M683.8,413.1h-4.2 M383,407.24h2.3 M683.8,407.24h-2.3 M383,403.82h2.3 M683.8,403.82h-2.3 M383,401.39h2.3 M683.8,401.39h-2.3 M383,399.51h2.3 M683.8,399.51h-2.3 M383,397.96h2.3 M683.8,397.96h-2.3 M383,396.66h2.3 M683.8,396.66h-2.3 M383,395.53h2.3 M683.8,395.53h-2.3 M383,394.54h2.3 M683.8,394.54h-2.3 M383,393.65h4.2 M683.8,393.65h-4.2 M383,387.79h2.3 M683.8,387.79h-2.3 M383,384.37h2.3 M683.8,384.37h-2.3 M383,381.94h2.3 M683.8,381.94h-2.3 M383,380.06h2.3 M683.8,380.06h-2.3 M383,378.51h2.3 M683.8,378.51h-2.3 M383,377.21h2.3 M683.8,377.21h-2.3 M383,376.08h2.3 M683.8,376.08h-2.3 M383,375.09h2.3 M683.8,375.09h-2.3 M383,374.2h4.2 M683.8,374.2h-4.2 M383,368.34h2.3 M683.8,368.34h-2.3 M383,364.92h2.3 M683.8,364.92h-2.3 M383,362.49h2.3 M683.8,362.49h-2.3 M383,360.61h2.3 M683.8,360.61h-2.3 M383,359.06h2.3 M683.8,359.06h-2.3 M383,357.76h2.3 M683.8,357.76h-2.3 M383,356.63h2.3 M683.8,356.63h-2.3 M383,355.64h2.3 M683.8,355.64h-2.3 M383,354.75h4.2 M683.8,354.75h-4.2 M383,348.89h2.3 M683.8,348.89h-2.3 M383,345.47h2.3 M683.8,345.47h-2.3 M383,343.04h2.3 M683.8,343.04h-2.3 M383,341.16h2.3 M683.8,341.16h-2.3 M383,339.61h2.3 M683.8,339.61h-2.3 M383,338.31h2.3 M683.8,338.31h-2.3 M383,337.18h2.3 M683.8,337.18h-2.3 M383,336.19h2.3 M683.8,336.19h-2.3 M383,335.3h4.2 M683.8,335.3h-4.2 M383,329.44h2.3 M683.8,329.44h-2.3 M383,326.02h2.3 M683.8,326.02h-2.3 M383,323.59h2.3 M683.8,323.59h-2.3 M383,321.71h2.3 M683.8,321.71h-2.3 M383,320.16h2.3 M683.8,320.16h-2.3 M383,318.86h2.3 M683.8,318.86h-2.3 M383,317.73h2.3 M683.8,317.73h-2.3 M383,316.74h2.3 M683.8,316.74h-2.3 M383,315.85h4.2 M683.8,315.85h-4.2 M383,309.99h2.3 M683.8,309.99h-2.3 M383,306.57h2.3 M683.8,306.57h-2.3 M383,304.14h2.3 M683.8,304.14h-2.3 M383,302.26h2.3 M683.8,302.26h-2.3 M383,300.71h2.3 M683.8,300.71h-2.3 M383,299.41h2.3 M683.8,299.41h-2.3 M383,298.28h2.3 M683.8,298.28h-2.3 M383,297.29h2.3 M683.8,297.29h-2.3 M383,296.4h4.2 M683.8,296.4h-4.2 M383,290.54h2.3 M683.8,290.54h-2.3 M383,287.12h2.3 M683.8,287.12h-2.3 M383,284.69h2.3 M683.8,284.69h-2.3 M383,282.81h2.3 M683.8,282.81h-2.3 M383,281.26h2.3 M683.8,281.26h-2.3 M383,279.96h2.3 M683.8,279.96h-2.3 M383,278.83h2.3 M683.8,278.83h-2.3 M383,277.84h2.3 M683.8,277.84h-2.3 M383,276.95h4.2 M683.8,276.95h-4.2 M383,271.09h2.3 M683.8,271.09h-2.3 M383,267.67h2.3 M683.8,267.67h-2.3 M383,265.24h2.3 M683.8,265.24h-2.3 M383,263.36h2.3 M683.8,263.36h-2.3 M383,261.81h2.3 M683.8,261.81h-2.3 M383,260.51h2.3 M683.8,260.51h-2.3 M383,259.38h2.3 M683.8,259.38h-2.3 M383,258.39h2.3 M683.8,258.39h-2.3 M383,257.5h4.2 M683.8,257.5h-4.2 M383,251.64h2.3 M683.8,251.64h-2.3 M383,248.22h2.3 M683.8,248.22h-2.3 M383,245.79h2.3 M683.8,245.79h-2.3 M383,243.91h2.3 M683.8,243.91h-2.3 M383,242.36h2.3 M683.8,242.36h-2.3" stroke="#000" stroke-width="0.8" fill="none"/>
<text transform="translate(386.04,466.8) scale(0.9,1)" font-size="11.0">10</text><text transform="translate(397.2,462.3) scale(1.0,1)" font-size="7.6">-3</text>
<text transform="translate(426.44,466.8) scale(0.9,1)" font-size="11.0">10</text><text transform="translate(437.6,462.3) scale(1.0,1)" font-size="7.6">-2</text>
<text transform="translate(466.84,466.8) scale(0.9,1)" font-size="11.0">10</text><text transform="translate(478,462.3) scale(1.0,1)" font-size="7.6">-1</text>
<text transform="translate(508.51,466.8) scale(0.9,1)" font-size="11.0">10</text><text transform="translate(519.67,462.3) scale(1.0,1)" font-size="7.6">0</text>
<text transform="translate(548.91,466.8) scale(0.9,1)" font-size="11.0">10</text><text transform="translate(560.07,462.3) scale(1.0,1)" font-size="7.6">1</text>
<text transform="translate(589.31,466.8) scale(0.9,1)" font-size="11.0">10</text><text transform="translate(600.47,462.3) scale(1.0,1)" font-size="7.6">2</text>
<text transform="translate(629.71,466.8) scale(0.9,1)" font-size="11.0">10</text><text transform="translate(640.87,462.3) scale(1.0,1)" font-size="7.6">3</text>
<text transform="translate(670.11,466.8) scale(0.9,1)" font-size="11.0">10</text><text transform="translate(681.27,462.3) scale(1.0,1)" font-size="7.6">4</text>
<text transform="translate(360.88,456.4) scale(0.9,1)" font-size="11.0">10</text><text transform="translate(372.04,451.9) scale(1.0,1)" font-size="7.6">-5</text>
<text transform="translate(360.88,436.95) scale(0.9,1)" font-size="11.0">10</text><text transform="translate(372.04,432.45) scale(1.0,1)" font-size="7.6">-4</text>
<text transform="translate(360.88,417.5) scale(0.9,1)" font-size="11.0">10</text><text transform="translate(372.04,413) scale(1.0,1)" font-size="7.6">-3</text>
<text transform="translate(360.88,398.05) scale(0.9,1)" font-size="11.0">10</text><text transform="translate(372.04,393.55) scale(1.0,1)" font-size="7.6">-2</text>
<text transform="translate(360.88,378.6) scale(0.9,1)" font-size="11.0">10</text><text transform="translate(372.04,374.1) scale(1.0,1)" font-size="7.6">-1</text>
<text transform="translate(363.42,359.15) scale(0.9,1)" font-size="11.0">10</text><text transform="translate(374.57,354.65) scale(1.0,1)" font-size="7.6">0</text>
<text transform="translate(363.42,339.7) scale(0.9,1)" font-size="11.0">10</text><text transform="translate(374.57,335.2) scale(1.0,1)" font-size="7.6">1</text>
<text transform="translate(363.42,320.25) scale(0.9,1)" font-size="11.0">10</text><text transform="translate(374.57,315.75) scale(1.0,1)" font-size="7.6">2</text>
<text transform="translate(363.42,300.8) scale(0.9,1)" font-size="11.0">10</text><text transform="translate(374.57,296.3) scale(1.0,1)" font-size="7.6">3</text>
<text transform="translate(363.42,281.35) scale(0.9,1)" font-size="11.0">10</text><text transform="translate(374.57,276.85) scale(1.0,1)" font-size="7.6">4</text>
<text transform="translate(363.42,261.9) scale(0.9,1)" font-size="11.0">10</text><text transform="translate(374.57,257.4) scale(1.0,1)" font-size="7.6">5</text>
<text x="406.2" y="271.4" font-size="13" font-weight="bold">argon</text>
<path d="M394.8,432.02 L395.8,431.75 L396.81,431.48 L397.81,431.21 L398.81,430.94 L399.82,430.66 L400.82,430.38 L401.82,430.1 L402.83,429.82 L403.83,429.53 L404.84,429.25 L405.84,428.96 L406.84,428.67 L407.85,428.38 L408.85,428.08 L409.85,427.79 L410.86,427.49 L411.86,427.2 L412.86,426.9 L413.87,426.6 L414.87,426.3 L415.87,426 L416.88,425.7 L417.88,425.4 L418.89,425.1 L419.89,424.8 L420.89,424.5 L421.9,424.19 L422.9,423.89 L423.9,423.59 L424.91,423.29 L425.91,422.98 L426.91,422.68 L427.92,422.38 L428.92,422.08 L429.92,421.78 L430.93,421.48 L431.93,421.18 L432.93,420.88 L433.94,420.59 L434.94,420.29 L435.95,420 L436.95,419.7 L437.95,419.41 L438.96,419.12 L439.96,418.83 L440.96,418.55 L441.97,418.26 L442.97,417.98 L443.97,417.7 L444.98,417.42 L445.98,417.14 L446.98,416.87 L447.99,416.59 L448.99,416.32 L450,416.05 L451,415.78 L452,415.51 L453.01,415.24 L454.01,414.97 L455.01,414.7 L456.02,414.43 L457.02,414.16 L458.02,413.88 L459.03,413.6 L460.03,413.32 L461.03,413.04 L462.04,412.75 L463.04,412.46 L464.04,412.17 L465.05,411.87 L466.05,411.57 L467.06,411.26 L468.06,410.95 L469.06,410.63 L470.07,410.31 L471.07,409.98 L472.07,409.64 L473.08,409.3 L474.08,408.94 L475.08,408.58 L476.09,408.21 L477.09,407.83 L478.09,407.44 L479.1,407.04 L480.1,406.64 L481.1,406.21 L482.11,405.78 L483.11,405.34 L484.12,404.88 L485.12,404.41 L486.12,403.92 L487.13,403.42 L488.13,402.91 L489.13,402.38 L490.14,401.84 L491.14,401.29 L492.14,400.73 L493.15,400.16 L494.15,399.58 L495.15,399 L496.16,398.4 L497.16,397.8 L498.17,397.2 L499.17,396.58 L500.17,395.96 L501.18,395.33 L502.18,394.7 L503.18,394.06 L504.19,393.41 L505.19,392.75 L506.19,392.09 L507.2,391.43 L508.2,390.75 L509.2,390.07 L510.21,389.39 L511.21,388.69 L512.21,388 L513.22,387.29 L514.22,386.58 L515.23,385.87 L516.23,385.14 L517.23,384.42 L518.24,383.68 L519.24,382.95 L520.24,382.2 L521.25,381.45 L522.25,380.7 L523.25,379.94 L524.26,379.17 L525.26,378.4 L526.26,377.63 L527.27,376.85 L528.27,376.07 L529.28,375.28 L530.28,374.48 L531.28,373.68 L532.29,372.88 L533.29,372.07 L534.29,371.26 L535.3,370.44 L536.3,369.62 L537.3,368.8 L538.31,367.97 L539.31,367.14 L540.31,366.3 L541.32,365.46 L542.32,364.62 L543.32,363.77 L544.33,362.92 L545.33,362.06 L546.34,361.21 L547.34,360.35 L548.34,359.48 L549.35,358.62 L550.35,357.75 L551.35,356.88 L552.36,356.01 L553.36,355.13 L554.36,354.26 L555.37,353.38 L556.37,352.5 L557.37,351.62 L558.38,350.74 L559.38,349.86 L560.39,348.98 L561.39,348.09 L562.39,347.21 L563.4,346.32 L564.4,345.44 L565.4,344.56 L566.41,343.67 L567.41,342.79 L568.41,341.9 L569.42,341.02 L570.42,340.14 L571.42,339.26 L572.43,338.38 L573.43,337.5 L574.43,336.63 L575.44,335.75 L576.44,334.88 L577.45,334.01 L578.45,333.14 L579.45,332.27 L580.46,331.41 L581.46,330.54 L582.46,329.69 L583.47,328.83 L584.47,327.98 L585.47,327.13 L586.48,326.28 L587.48,325.44 L588.48,324.6 L589.49,323.76 L590.49,322.93 L591.5,322.1 L592.5,321.28 L593.5,320.45 L594.51,319.63 L595.51,318.82 L596.51,318 L597.52,317.2 L598.52,316.39 L599.52,315.59 L600.53,314.79 L601.53,313.99 L602.53,313.2 L603.54,312.41 L604.54,311.63 L605.54,310.85 L606.55,310.07 L607.55,309.29 L608.56,308.52 L609.56,307.75 L610.56,306.99 L611.57,306.23 L612.57,305.47 L613.57,304.71 L614.58,303.96 L615.58,303.21 L616.58,302.47 L617.59,301.73 L618.59,301 L619.59,300.26 L620.6,299.53 L621.6,298.81 L622.6,298.09 L623.61,297.37 L624.61,296.66 L625.62,295.95 L626.62,295.24 L627.62,294.54 L628.63,293.85 L629.63,293.16 L630.63,292.47 L631.64,291.78 L632.64,291.1 L633.64,290.43 L634.65,289.76 L635.65,289.09 L636.65,288.43 L637.66,287.77 L638.66,287.12 L639.67,286.47 L640.67,285.83 L641.67,285.19 L642.68,284.55 L643.68,283.92 L644.68,283.3 L645.69,282.68 L646.69,282.07 L647.69,281.46 L648.7,280.85 L649.7,280.25 L650.7,279.66 L651.71,279.07 L652.71,278.48 L653.71,277.9 L654.72,277.33 L655.72,276.76 L656.73,276.19 L657.73,275.64 L658.73,275.08 L659.74,274.54 L660.74,273.99 L661.74,273.46 L662.75,272.93 L663.75,272.4 L664.75,271.88 L665.76,271.37 L666.76,270.86 L667.76,270.36 L668.77,269.86 L669.77,269.37 L670.78,268.88 L671.78,268.4 L672.78,267.93 L673.79,267.46 L674.79,267 L675.79,266.55 L676.8,266.1 L677.8,265.65" fill="none" stroke="#000" stroke-width="1.7"/>
<path d="M498.6,383 L500.8,388.7 L503,391.8 L508,391.1 L509,390.43 L510,389.75 L511,389.06 L512,388.37 L513.01,387.67 L514.01,386.96 L515.01,386.25 L516.01,385.53 L517.01,384.8 L518.01,384.07 L519.01,383.33 L520.01,382.59 L521.02,381.84 L522.02,381.08 L523.02,380.32 L524.02,379.56 L525.02,378.78 L526.02,378.01 L527.02,377.23 L528.02,376.44 L529.02,375.65 L530.03,374.85 L531.03,374.05 L532.03,373.25 L533.03,372.44 L534.03,371.63 L535.03,370.81 L536.03,369.99 L537.03,369.17 L538.04,368.34 L539.04,367.51 L540.04,366.67 L541.04,365.84 L542.04,365 L543.04,364.15 L544.04,363.31 L545.04,362.46 L546.04,361.61 L547.05,360.75 L548.05,359.89 L549.05,359.04 L550.05,358.18 L551.05,357.31 L552.05,356.45 L553.05,355.58 L554.05,354.71 L555.06,353.84 L556.06,352.97 L557.06,352.1 L558.06,351.23 L559.06,350.36" fill="none" stroke="#ff0000" stroke-width="2" stroke-dasharray="7 8"/>
<path d="M559.06,350.36 L560.06,349.48 L561.06,348.61 L562.06,347.73 L563.06,346.85 L564.07,345.98 L565.07,345.1 L566.07,344.22 L567.07,343.35 L568.07,342.47 L569.07,341.59 L570.07,340.72 L571.07,339.84 L572.08,338.97 L573.08,338.1 L574.08,337.22 L575.08,336.35 L576.08,335.48 L577.08,334.61 L578.08,333.74 L579.08,332.88 L580.08,332.01 L581.09,331.15 L582.09,330.29 L583.09,329.43 L584.09,328.57 L585.09,327.72 L586.09,326.87 L587.09,326.02 L588.09,325.17 L589.1,324.33 L590.1,323.49 L591.1,322.65 L592.1,321.82 L593.1,320.98 L594.1,320.16 L595.1,319.33 L596.1,318.51 L597.1,317.7 L598.11,316.88 L599.11,316.07 L600.11,315.27 L601.11,314.47 L602.11,313.67 L603.11,312.87 L604.11,312.08 L605.11,311.3 L606.12,310.52 L607.12,309.74 L608.12,308.96 L609.12,308.19 L610.12,307.43 L611.12,306.66 L612.12,305.91 L613.12,305.15 L614.12,304.4 L615.13,303.66 L616.13,302.91 L617.13,302.18 L618.13,301.44 L619.13,300.71 L620.13,299.99 L621.13,299.27 L622.13,298.55 L623.14,297.84 L624.14,297.14 L625.14,296.43 L626.14,295.73 L627.14,295.04 L628.14,294.35 L629.14,293.67 L630.14,292.99 L631.14,292.31 L632.15,291.64 L633.15,290.97 L634.15,290.31 L635.15,289.65 L636.15,289 L637.15,288.35 L638.15,287.71 L639.15,287.07 L640.16,286.43 L641.16,285.81 L642.16,285.18 L643.16,284.56 L644.16,283.94 L645.16,283.33 L646.16,282.72 L647.16,282.12 L648.16,281.51 L649.17,280.92 L650.17,280.32 L651.17,279.73 L652.17,279.15 L653.17,278.56 L654.17,277.98 L655.17,277.41 L656.17,276.83 L657.18,276.26 L658.18,275.69 L659.18,275.13 L660.18,274.57 L661.18,274.01 L662.18,273.45 L663.18,272.89 L664.18,272.33 L665.18,271.77 L666.19,271.21 L667.19,270.66 L668.19,270.1 L669.19,269.54 L670.19,268.97 L671.19,268.41 L672.19,267.84 L673.19,267.27 L674.2,266.69 L675.2,266.11 L676.2,265.53 L677.2,264.94 L678.2,264.35" fill="none" stroke="#ff0000" stroke-width="2" stroke-dasharray="7 8" stroke-dashoffset="8.66"/>
<path d="M484.4,398.4 L490,398.8 L494,399.63 L495,399.05 L496.01,398.47 L497.01,397.88 L498.02,397.28 L499.02,396.67 L500.03,396.06 L501.03,395.44 L502.03,394.81 L503.04,394.17 L504.04,393.52 L505.05,392.87 L506.05,392.21 L507.06,391.55 L508.06,390.87 L509.07,390.2 L510.07,389.51 L511.07,388.82 L512.08,388.12 L513.08,387.41 L514.09,386.7 L515.09,385.98 L516.1,385.26 L517.1,384.53 L518.1,383.79 L519.11,383.05 L520.11,382.3 L521.12,381.55 L522.12,380.79 L523.13,380.03 L524.13,379.26 L525.14,378.49 L526.14,377.71 L527.14,376.93 L528.15,376.14 L529.15,375.35 L530.16,374.55 L531.16,373.75 L532.17,372.94 L533.17,372.13 L534.17,371.32 L535.18,370.5 L536.18,369.68 L537.19,368.86 L538.19,368.03 L539.2,367.2 L540.2,366.36 L541.21,365.52 L542.21,364.68 L543.21,363.84 L544.22,362.99 L545.22,362.14 L546.23,361.29 L547.23,360.43 L548.24,359.57 L549.24,358.71 L550.24,357.85 L551.25,356.98 L552.25,356.12 L553.26,355.25 L554.26,354.38 L555.27,353.5 L556.27,352.63 L557.28,351.76 L558.28,350.88 L559.28,350 L560.29,349.12 L561.29,348.24 L562.3,347.36 L563.3,346.48 L564.31,345.6 L565.31,344.71 L566.31,343.83 L567.32,342.95 L568.32,342.06 L569.33,341.18 L570.33,340.29 L571.34,339.41 L572.34,338.52 L573.35,337.64 L574.35,336.76 L575.35,335.88 L576.36,335 L577.36,334.12 L578.37,333.24 L579.37,332.36 L580.38,331.48 L581.38,330.61 L582.38,329.74 L583.39,328.87 L584.39,328 L585.4,327.14 L586.4,326.28 L587.41,325.42 L588.41,324.56 L589.42,323.71 L590.42,322.86 L591.42,322.01 L592.43,321.17 L593.43,320.33 L594.44,319.5 L595.44,318.67 L596.45,317.85 L597.45,317.04 L598.45,316.23 L599.46,315.42 L600.46,314.62 L601.47,313.83 L602.47,313.04 L603.48,312.27 L604.48,311.49 L605.49,310.73 L606.49,309.98 L607.49,309.23 L608.5,308.49 L609.5,307.76 L610.51,307.04 L611.51,306.33 L612.52,305.62 L613.52,304.93 L614.52,304.24 L615.53,303.57 L616.53,302.91 L617.54,302.25 L618.54,301.61 L619.55,300.97 L620.55,300.35 L621.56,299.74 L622.56,299.14 L623.56,298.56 L624.57,297.98 L625.57,297.42 L626.58,296.86 L627.58,296.33 L628.59,295.8 L629.59,295.29 L630.59,294.79 L631.6,294.3 L632.6,293.82 L633.61,293.36 L634.61,292.91 L635.62,292.47 L636.62,292.04 L637.63,291.63 L638.63,291.23 L639.63,290.84 L640.64,290.46 L641.64,290.1 L642.65,289.74 L643.65,289.4 L644.66,289.07 L645.66,288.76 L646.66,288.45 L647.67,288.16 L648.67,287.87 L649.68,287.6 L650.68,287.34 L651.69,287.1 L652.69,286.86 L653.7,286.63 L654.7,286.42 L655.7,286.22 L656.71,286.03 L657.71,285.85 L658.72,285.68 L659.72,285.52 L660.73,285.37 L661.73,285.24 L662.73,285.11 L663.74,285 L664.74,284.89 L665.75,284.8 L666.75,284.72 L667.76,284.64 L668.76,284.58 L669.77,284.53 L670.77,284.49 L671.77,284.46 L672.78,284.44 L673.78,284.43 L674.79,284.43 L675.79,284.44 L676.8,284.46 L677.8,284.49" fill="none" stroke="#318a57" stroke-width="2" stroke-dasharray="2 2.05"/>
<path d="M484.4,398.4 L490,398.8 L494,399.73 L495,399.15 L496.01,398.57 L497.01,397.98 L498.02,397.38 L499.02,396.77 L500.03,396.16 L501.03,395.53 L502.03,394.91 L503.04,394.27 L504.04,393.62 L505.05,392.97 L506.05,392.31 L507.06,391.65 L508.06,390.98 L509.07,390.3 L510.07,389.61 L511.07,388.92 L512.08,388.22 L513.08,387.51 L514.09,386.8 L515.09,386.08 L516.1,385.36 L517.1,384.63 L518.1,383.9 L519.11,383.15 L520.11,382.41 L521.12,381.66 L522.12,380.9 L523.13,380.13 L524.13,379.37 L525.14,378.59 L526.14,377.82 L527.14,377.03 L528.15,376.25 L529.15,375.45 L530.16,374.66 L531.16,373.86 L532.17,373.05 L533.17,372.24 L534.17,371.43 L535.18,370.61 L536.18,369.79 L537.19,368.96 L538.19,368.13 L539.2,367.3 L540.2,366.47 L541.21,365.63 L542.21,364.78 L543.21,363.94 L544.22,363.09 L545.22,362.24 L546.23,361.38 L547.23,360.53 L548.24,359.67 L549.24,358.81 L550.24,357.94 L551.25,357.07 L552.25,356.21 L553.26,355.33 L554.26,354.46 L555.27,353.59 L556.27,352.71 L557.28,351.83 L558.28,350.95 L559.28,350.07" fill="none" stroke="#0000ff" stroke-width="2" stroke-dasharray="8 4 2 4"/>
<path d="M559.28,350.07 L560.29,349.19 L561.29,348.31 L562.3,347.42 L563.3,346.54 L564.31,345.65 L565.31,344.77 L566.31,343.88 L567.32,342.99 L568.32,342.1 L569.33,341.22 L570.33,340.33 L571.34,339.44 L572.34,338.56 L573.35,337.68 L574.35,336.79 L575.35,335.91 L576.36,335.04 L577.36,334.16 L578.37,333.28 L579.37,332.41 L580.38,331.54 L581.38,330.68 L582.38,329.81 L583.39,328.96 L584.39,328.1 L585.4,327.25 L586.4,326.4 L587.41,325.56 L588.41,324.72 L589.42,323.89 L590.42,323.06 L591.42,322.23 L592.43,321.42 L593.43,320.61 L594.44,319.8 L595.44,319 L596.45,318.21 L597.45,317.42 L598.45,316.65 L599.46,315.88 L600.46,315.11 L601.47,314.36 L602.47,313.61 L603.48,312.87 L604.48,312.14 L605.49,311.42 L606.49,310.71 L607.49,310.01 L608.5,309.31 L609.5,308.63 L610.51,307.95 L611.51,307.29 L612.52,306.63 L613.52,305.99 L614.52,305.36 L615.53,304.73 L616.53,304.12 L617.54,303.52 L618.54,302.94 L619.55,302.36 L620.55,301.8 L621.56,301.25 L622.56,300.72 L623.56,300.19 L624.57,299.68 L625.57,299.19 L626.58,298.71 L627.58,298.24 L628.59,297.79 L629.59,297.35 L630.59,296.92 L631.6,296.51 L632.6,296.11 L633.61,295.73 L634.61,295.35 L635.62,294.99 L636.62,294.65 L637.63,294.31 L638.63,293.99 L639.63,293.68 L640.64,293.38 L641.64,293.09 L642.65,292.82 L643.65,292.55 L644.66,292.3 L645.66,292.06 L646.66,291.83 L647.67,291.61 L648.67,291.4 L649.68,291.2 L650.68,291.01 L651.69,290.83 L652.69,290.66 L653.7,290.49 L654.7,290.34 L655.7,290.2 L656.71,290.07 L657.71,289.94 L658.72,289.82 L659.72,289.71 L660.73,289.61 L661.73,289.52 L662.73,289.44 L663.74,289.36 L664.74,289.29 L665.75,289.23 L666.75,289.17 L667.76,289.12 L668.76,289.08 L669.77,289.05 L670.77,289.02 L671.77,288.99 L672.78,288.98 L673.78,288.96 L674.79,288.96 L675.79,288.96 L676.8,288.96 L677.8,288.97" fill="none" stroke="#0000ff" stroke-width="2" stroke-dasharray="8 4 2 4" stroke-dashoffset="11.73"/>
<path d="M484.4,398.4 L490,398.8 L494,399.93 L495,399.35 L496.01,398.77 L497.01,398.18 L498.02,397.58 L499.02,396.97 L500.03,396.36 L501.03,395.74 L502.03,395.11 L503.04,394.47 L504.04,393.82 L505.05,393.17 L506.05,392.51 L507.06,391.85 L508.06,391.17 L509.07,390.5 L510.07,389.81 L511.07,389.12 L512.08,388.42 L513.08,387.71 L514.09,387 L515.09,386.28 L516.1,385.56 L517.1,384.83 L518.1,384.09 L519.11,383.35 L520.11,382.61 L521.12,381.85 L522.12,381.1 L523.13,380.33 L524.13,379.57 L525.14,378.79 L526.14,378.01 L527.14,377.23 L528.15,376.44 L529.15,375.65 L530.16,374.86 L531.16,374.05 L532.17,373.25 L533.17,372.44 L534.17,371.63 L535.18,370.81 L536.18,369.99 L537.19,369.16 L538.19,368.33 L539.2,367.5 L540.2,366.67 L541.21,365.83 L542.21,364.98 L543.21,364.14 L544.22,363.29 L545.22,362.44 L546.23,361.58 L547.23,360.73 L548.24,359.87 L549.24,359.01 L550.24,358.14 L551.25,357.28 L552.25,356.41 L553.26,355.54 L554.26,354.66 L555.27,353.79 L556.27,352.91 L557.28,352.03 L558.28,351.16 L559.28,350.27" fill="none" stroke="#00ffff" stroke-width="2" stroke-dasharray="6 4 1.6 4.4 1.6 4"/>
<path d="M559.28,350.27 L560.29,349.39 L561.29,348.51 L562.3,347.63 L563.3,346.74 L564.31,345.85 L565.31,344.97 L566.31,344.08 L567.32,343.19 L568.32,342.3 L569.33,341.42 L570.33,340.53 L571.34,339.64 L572.34,338.76 L573.35,337.87 L574.35,336.99 L575.35,336.11 L576.36,335.23 L577.36,334.36 L578.37,333.48 L579.37,332.61 L580.38,331.75 L581.38,330.89 L582.38,330.03 L583.39,329.18 L584.39,328.33 L585.4,327.49 L586.4,326.65 L587.41,325.81 L588.41,324.97 L589.42,324.14 L590.42,323.29 L591.42,322.45 L592.43,321.6 L593.43,320.75 L594.44,319.9 L595.44,319.11 L596.45,318.39 L597.45,317.77 L598.45,317.22 L599.46,316.69 L600.46,316.14 L601.47,315.56 L602.47,314.94 L603.48,314.29 L604.48,313.62 L605.49,312.93 L606.49,312.23 L607.49,311.53 L608.5,310.84 L609.5,310.16 L610.51,309.49 L611.51,308.86 L612.52,308.27 L613.52,307.72 L614.52,307.22 L615.53,306.77 L616.53,306.36 L617.54,305.97 L618.54,305.59 L619.55,305.21 L620.55,304.81 L621.56,304.41 L622.56,304 L623.56,303.58 L624.57,303.15 L625.57,302.73 L626.58,302.3 L627.58,301.88 L628.59,301.45 L629.59,301.04 L630.59,300.63 L631.6,300.23 L632.6,299.83 L633.61,299.46 L634.61,299.09 L635.62,298.74 L636.62,298.41 L637.63,298.1 L638.63,297.81 L639.63,297.53 L640.64,297.27 L641.64,297.03 L642.65,296.8 L643.65,296.59 L644.66,296.39 L645.66,296.21 L646.66,296.04 L647.67,295.88 L648.67,295.74 L649.68,295.6 L650.68,295.48 L651.69,295.37 L652.69,295.27 L653.7,295.18 L654.7,295.09 L655.7,295.02 L656.71,294.95 L657.71,294.89 L658.72,294.84 L659.72,294.8 L660.73,294.76 L661.73,294.72 L662.73,294.69 L663.74,294.66 L664.74,294.64 L665.75,294.62 L666.75,294.6 L667.76,294.59 L668.76,294.58 L669.77,294.56 L670.77,294.55 L671.77,294.53 L672.78,294.52 L673.78,294.5 L674.79,294.49 L675.79,294.46 L676.8,294.44 L677.8,294.41" fill="none" stroke="#00ffff" stroke-width="2" stroke-dasharray="6 4 1.6 4.4 1.6 4" stroke-dashoffset="20.65"/>
<line x1="579.8" y1="372.9" x2="608.6" y2="372.9" stroke="#000" stroke-width="2"/>
<text x="612.3" y="377.1" font-size="12">literature</text>
<line x1="579.8" y1="388.5" x2="608.6" y2="388.5" stroke="#ff0000" stroke-width="2" stroke-dasharray="7 8"/>
<text x="612.3" y="392.7" font-size="12">numerical</text>
<line x1="579.8" y1="404.6" x2="608.6" y2="404.6" stroke="#318a57" stroke-width="2" stroke-dasharray="2 2.05"/>
<text x="612.3" y="408.8" font-size="12">appr. <tspan font-style="italic" dx="0.7">O</tspan>(<tspan font-size="11" dx="0.6">ε</tspan><tspan font-size="8.5" dy="-4.9" dx="0.2">2</tspan><tspan dy="4.9" dx="0.3">)</tspan></text>
<line x1="579.8" y1="422.1" x2="608.6" y2="422.1" stroke="#0000ff" stroke-width="2" stroke-dasharray="8 4 2 4"/>
<text x="612.3" y="426.3" font-size="12">appr. <tspan font-style="italic" dx="0.7">O</tspan>(<tspan font-size="11" dx="0.6">ε</tspan><tspan font-size="8.5" dy="-4.9" dx="0.2">2</tspan><tspan dy="4.9" dx="0.3">)</tspan></text>
<line x1="579.8" y1="439" x2="608.6" y2="439" stroke="#00ffff" stroke-width="2" stroke-dasharray="6 4 1.6 4.4 1.6 4"/>
<text x="612.3" y="443.2" font-size="12">appr. <tspan font-style="italic" dx="0.7">O</tspan>(<tspan font-size="11" dx="0.6">ε</tspan><tspan font-size="8.5" dy="-4.9" dx="0.2">2</tspan><tspan dy="4.9" dx="0.3">)</tspan></text>
<text x="0" y="0" transform="translate(10.8,105) rotate(-90)" text-anchor="middle" font-size="14" font-style="italic">R(m)</text>
<text x="0" y="0" transform="translate(10.8,345.5) rotate(-90)" text-anchor="middle" font-size="14" font-style="italic">R(m)</text>
<text x="162.5" y="486.3" font-size="14" font-style="italic">E<tspan font-size="10.2" dy="3.7">0</tspan><tspan dy="-3.7" dx="-0.4">(MeV)</tspan></text>
<text x="507.5" y="486.3" font-size="14" font-style="italic">E<tspan font-size="10.2" dy="3.7">0</tspan><tspan dy="-3.7" dx="-0.4">(MeV)</tspan></text>
</svg>
</body></html>
